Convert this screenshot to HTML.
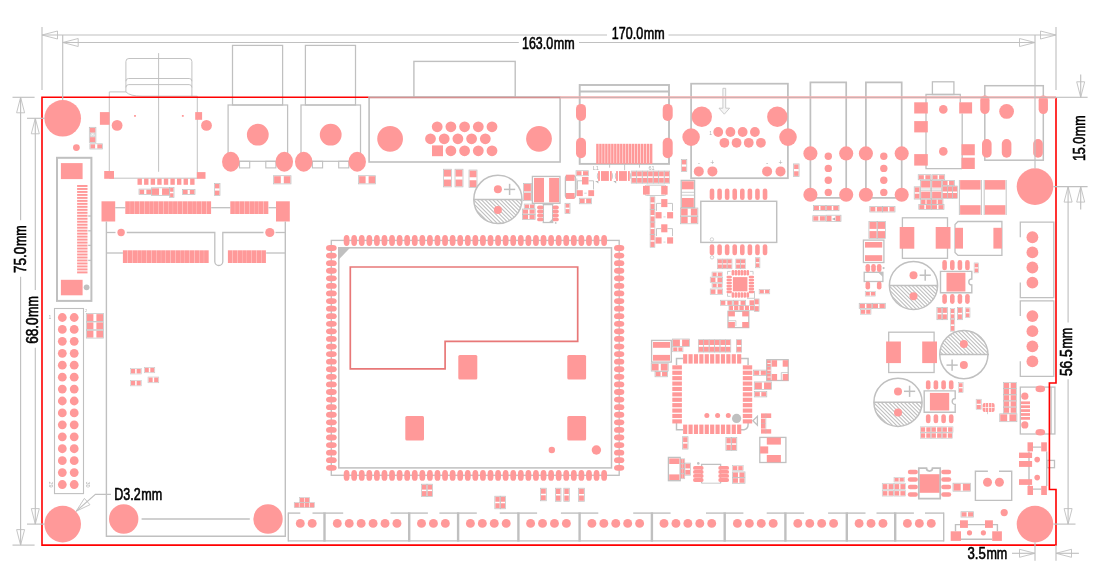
<!DOCTYPE html>
<html><head><meta charset="utf-8"><title>PCB dimensions</title>
<style>
html,body{margin:0;padding:0;background:#fff;}
body{width:1096px;height:578px;overflow:hidden;font-family:"Liberation Sans",sans-serif;}
svg{display:block;will-change:transform;}
text{font-family:"Liberation Sans",sans-serif;font-weight:400;fill:#000;stroke:#000;stroke-width:0.6px;}
</style></head><body>
<svg width="1096" height="578" viewBox="0 0 1096 578">
<rect x="57" y="157.8" width="34.4" height="143.1" fill="none" stroke="#c0c0c0" stroke-width="2"/>
<rect x="60.9" y="163.1" width="21.7" height="16" fill="#ff9999"/>
<rect x="60.9" y="279.8" width="21.7" height="15.5" fill="#ff9999"/>
<rect x="77.1" y="185" width="10.4" height="1.95" fill="#ff9999"/>
<rect x="77.1" y="187.98" width="10.4" height="1.95" fill="#ff9999"/>
<rect x="77.1" y="190.96" width="10.4" height="1.95" fill="#ff9999"/>
<rect x="77.1" y="193.94" width="10.4" height="1.95" fill="#ff9999"/>
<rect x="77.1" y="196.92" width="10.4" height="1.95" fill="#ff9999"/>
<rect x="77.1" y="199.9" width="10.4" height="1.95" fill="#ff9999"/>
<rect x="77.1" y="202.88" width="10.4" height="1.95" fill="#ff9999"/>
<rect x="77.1" y="205.86" width="10.4" height="1.95" fill="#ff9999"/>
<rect x="77.1" y="208.84" width="10.4" height="1.95" fill="#ff9999"/>
<rect x="77.1" y="211.82" width="10.4" height="1.95" fill="#ff9999"/>
<rect x="77.1" y="214.8" width="10.4" height="1.95" fill="#ff9999"/>
<rect x="77.1" y="217.78" width="10.4" height="1.95" fill="#ff9999"/>
<rect x="77.1" y="220.76" width="10.4" height="1.95" fill="#ff9999"/>
<rect x="77.1" y="223.74" width="10.4" height="1.95" fill="#ff9999"/>
<rect x="77.1" y="226.72" width="10.4" height="1.95" fill="#ff9999"/>
<rect x="77.1" y="229.7" width="10.4" height="1.95" fill="#ff9999"/>
<rect x="77.1" y="232.68" width="10.4" height="1.95" fill="#ff9999"/>
<rect x="77.1" y="235.66" width="10.4" height="1.95" fill="#ff9999"/>
<rect x="77.1" y="238.64" width="10.4" height="1.95" fill="#ff9999"/>
<rect x="77.1" y="241.62" width="10.4" height="1.95" fill="#ff9999"/>
<rect x="77.1" y="244.6" width="10.4" height="1.95" fill="#ff9999"/>
<rect x="77.1" y="247.58" width="10.4" height="1.95" fill="#ff9999"/>
<rect x="77.1" y="250.56" width="10.4" height="1.95" fill="#ff9999"/>
<rect x="77.1" y="253.54" width="10.4" height="1.95" fill="#ff9999"/>
<rect x="77.1" y="256.52" width="10.4" height="1.95" fill="#ff9999"/>
<rect x="77.1" y="259.5" width="10.4" height="1.95" fill="#ff9999"/>
<rect x="77.1" y="262.48" width="10.4" height="1.95" fill="#ff9999"/>
<rect x="77.1" y="265.46" width="10.4" height="1.95" fill="#ff9999"/>
<rect x="77.1" y="268.44" width="10.4" height="1.95" fill="#ff9999"/>
<rect x="77.1" y="271.42" width="10.4" height="1.95" fill="#ff9999"/>
<circle cx="86.6" cy="287.3" r="2.9" fill="#c0c0c0"/>
<path d="M88.2 216 L91.4 216" fill="none" stroke="#c0c0c0" stroke-width="1.3"/>
<path d="M88.2 230.8 L91.4 230.8" fill="none" stroke="#c0c0c0" stroke-width="1.3"/>
<path d="M88.2 245.4 L91.4 245.4" fill="none" stroke="#c0c0c0" stroke-width="1.3"/>
<path d="M88.2 260.4 L91.4 260.4" fill="none" stroke="#c0c0c0" stroke-width="1.3"/>
<circle cx="76.4" cy="147.6" r="3.4" fill="#ff9999"/>
<rect x="89.8" y="127.8" width="5.6" height="4.85" fill="#ff9999"/>
<rect x="89.8" y="137.15" width="5.6" height="4.85" fill="#ff9999"/>
<rect x="89.3" y="127.3" width="6.6" height="15.2" fill="none" stroke="#c0c0c0" stroke-width="0.7"/>
<rect x="90.2" y="133" width="4.8" height="3.8" fill="#f6f6f6" stroke="#c0c0c0" stroke-width="0.6"/>
<path d="M90.4 133.4 L92.6 136.2 L94.8 133.4" fill="none" stroke="#c0c0c0" stroke-width="0.5"/>
<rect x="90.4" y="144.3" width="4.7" height="4.2" fill="#ff9999"/>
<rect x="97.3" y="144.3" width="4.7" height="4.2" fill="#ff9999"/>
<rect x="89.9" y="143.8" width="12.6" height="5.2" fill="none" stroke="#c0c0c0" stroke-width="0.7"/>
<path d="M125.9 91.9 V61.5 Q125.9 58.5 128.9 58.5 H188.9 Q191.9 58.5 191.9 61.5 V96.2" fill="none" stroke="#c0c0c0" stroke-width="0.95"/>
<path d="M125.9 81.2 Q125.9 78.5 128.6 78.5 H189.2 Q191.9 78.5 191.9 81.2" fill="none" stroke="#c0c0c0" stroke-width="0.95"/>
<path d="M125.9 87.4 Q125.9 84.6 128.7 84.6 H189.1 Q191.9 84.6 191.9 87.4" fill="none" stroke="#c0c0c0" stroke-width="0.95"/>
<path d="M109.3 178.2 V91.9 H125.9 Q130 96.2 142 96.2 H197.3 V178.2 Z" fill="none" stroke="#c0c0c0" stroke-width="0.95"/>
<path d="M158.6 53.1 L158.6 171.8" fill="none" stroke="#c0c0c0" stroke-width="0.95"/>
<rect x="99.9" y="112.1" width="9.7" height="12.7" fill="#ff9999"/>
<rect x="195.2" y="112.1" width="6.9" height="7.7" fill="#ff9999"/>
<circle cx="117.1" cy="125.4" r="5.4" fill="#ff9999"/>
<circle cx="206.5" cy="125.4" r="5.4" fill="#ff9999"/>
<rect x="134.1" y="115" width="1.8" height="1.8" fill="#ff9999"/>
<rect x="181.9" y="115" width="1.8" height="1.8" fill="#ff9999"/>
<rect x="104.2" y="171" width="9.8" height="7.8" fill="#ff9999"/>
<rect x="196.9" y="172.1" width="8.6" height="6.7" fill="#ff9999"/>
<rect x="137.5" y="178.6" width="4.4" height="6.2" fill="#ff9999"/>
<rect x="144.08" y="178.6" width="4.4" height="6.2" fill="#ff9999"/>
<rect x="150.66" y="178.6" width="4.4" height="6.2" fill="#ff9999"/>
<rect x="157.24" y="178.6" width="4.4" height="6.2" fill="#ff9999"/>
<rect x="163.82" y="178.6" width="4.4" height="6.2" fill="#ff9999"/>
<rect x="170.4" y="178.6" width="4.4" height="6.2" fill="#ff9999"/>
<rect x="176.98" y="178.6" width="4.4" height="6.2" fill="#ff9999"/>
<rect x="183.56" y="178.6" width="4.4" height="6.2" fill="#ff9999"/>
<rect x="190.14" y="178.6" width="4.4" height="6.2" fill="#ff9999"/>
<rect x="139.5" y="189.6" width="4.65" height="4.5" fill="#ff9999"/>
<rect x="146.35" y="189.6" width="4.65" height="4.5" fill="#ff9999"/>
<rect x="139" y="189.1" width="12.5" height="5.5" fill="none" stroke="#c0c0c0" stroke-width="0.7"/>
<rect x="152" y="188.3" width="7.05" height="6.6" fill="#ff9999"/>
<rect x="162.05" y="188.3" width="7.05" height="6.6" fill="#ff9999"/>
<rect x="151.5" y="187.8" width="18.1" height="7.6" fill="none" stroke="#c0c0c0" stroke-width="0.7"/>
<rect x="170.1" y="188" width="3.4" height="3.75" fill="#ff9999"/>
<rect x="170.1" y="193.25" width="3.4" height="3.75" fill="#ff9999"/>
<rect x="169.6" y="187.5" width="4.4" height="10" fill="none" stroke="#c0c0c0" stroke-width="0.7"/>
<rect x="183" y="189.9" width="4.65" height="4.2" fill="#ff9999"/>
<rect x="189.85" y="189.9" width="4.65" height="4.2" fill="#ff9999"/>
<rect x="182.5" y="189.4" width="12.5" height="5.2" fill="none" stroke="#c0c0c0" stroke-width="0.7"/>
<rect x="214.9" y="183.9" width="4.6" height="4.5" fill="#ff9999"/>
<rect x="214.9" y="190.6" width="4.6" height="4.5" fill="#ff9999"/>
<rect x="214.4" y="183.4" width="5.6" height="12.2" fill="none" stroke="#c0c0c0" stroke-width="0.7"/>
<rect x="101.5" y="201.3" width="13.7" height="20.2" fill="#ff9999"/>
<rect x="276" y="201.3" width="13.8" height="20.2" fill="#ff9999"/>
<rect x="125.3" y="201.3" width="4.6" height="12.7" fill="#ff9999"/>
<rect x="122.9" y="250.3" width="4.6" height="12.7" fill="#ff9999"/>
<rect x="130.07" y="201.3" width="4.6" height="12.7" fill="#ff9999"/>
<rect x="127.68" y="250.3" width="4.6" height="12.7" fill="#ff9999"/>
<rect x="134.85" y="201.3" width="4.6" height="12.7" fill="#ff9999"/>
<rect x="132.45" y="250.3" width="4.6" height="12.7" fill="#ff9999"/>
<rect x="139.62" y="201.3" width="4.6" height="12.7" fill="#ff9999"/>
<rect x="137.22" y="250.3" width="4.6" height="12.7" fill="#ff9999"/>
<rect x="144.4" y="201.3" width="4.6" height="12.7" fill="#ff9999"/>
<rect x="142" y="250.3" width="4.6" height="12.7" fill="#ff9999"/>
<rect x="149.18" y="201.3" width="4.6" height="12.7" fill="#ff9999"/>
<rect x="146.78" y="250.3" width="4.6" height="12.7" fill="#ff9999"/>
<rect x="153.95" y="201.3" width="4.6" height="12.7" fill="#ff9999"/>
<rect x="151.55" y="250.3" width="4.6" height="12.7" fill="#ff9999"/>
<rect x="158.72" y="201.3" width="4.6" height="12.7" fill="#ff9999"/>
<rect x="156.33" y="250.3" width="4.6" height="12.7" fill="#ff9999"/>
<rect x="163.5" y="201.3" width="4.6" height="12.7" fill="#ff9999"/>
<rect x="161.1" y="250.3" width="4.6" height="12.7" fill="#ff9999"/>
<rect x="168.28" y="201.3" width="4.6" height="12.7" fill="#ff9999"/>
<rect x="165.88" y="250.3" width="4.6" height="12.7" fill="#ff9999"/>
<rect x="173.05" y="201.3" width="4.6" height="12.7" fill="#ff9999"/>
<rect x="170.65" y="250.3" width="4.6" height="12.7" fill="#ff9999"/>
<rect x="177.82" y="201.3" width="4.6" height="12.7" fill="#ff9999"/>
<rect x="175.43" y="250.3" width="4.6" height="12.7" fill="#ff9999"/>
<rect x="182.6" y="201.3" width="4.6" height="12.7" fill="#ff9999"/>
<rect x="180.2" y="250.3" width="4.6" height="12.7" fill="#ff9999"/>
<rect x="187.38" y="201.3" width="4.6" height="12.7" fill="#ff9999"/>
<rect x="184.98" y="250.3" width="4.6" height="12.7" fill="#ff9999"/>
<rect x="192.15" y="201.3" width="4.6" height="12.7" fill="#ff9999"/>
<rect x="189.75" y="250.3" width="4.6" height="12.7" fill="#ff9999"/>
<rect x="196.93" y="201.3" width="4.6" height="12.7" fill="#ff9999"/>
<rect x="194.53" y="250.3" width="4.6" height="12.7" fill="#ff9999"/>
<rect x="201.7" y="201.3" width="4.6" height="12.7" fill="#ff9999"/>
<rect x="199.3" y="250.3" width="4.6" height="12.7" fill="#ff9999"/>
<rect x="206.48" y="201.3" width="4.6" height="12.7" fill="#ff9999"/>
<rect x="204.08" y="250.3" width="4.6" height="12.7" fill="#ff9999"/>
<rect x="230.3" y="201.3" width="4.6" height="12.7" fill="#ff9999"/>
<rect x="227.9" y="250.3" width="4.6" height="12.7" fill="#ff9999"/>
<rect x="235.08" y="201.3" width="4.6" height="12.7" fill="#ff9999"/>
<rect x="232.68" y="250.3" width="4.6" height="12.7" fill="#ff9999"/>
<rect x="239.85" y="201.3" width="4.6" height="12.7" fill="#ff9999"/>
<rect x="237.45" y="250.3" width="4.6" height="12.7" fill="#ff9999"/>
<rect x="244.62" y="201.3" width="4.6" height="12.7" fill="#ff9999"/>
<rect x="242.22" y="250.3" width="4.6" height="12.7" fill="#ff9999"/>
<rect x="249.4" y="201.3" width="4.6" height="12.7" fill="#ff9999"/>
<rect x="247" y="250.3" width="4.6" height="12.7" fill="#ff9999"/>
<rect x="254.18" y="201.3" width="4.6" height="12.7" fill="#ff9999"/>
<rect x="251.78" y="250.3" width="4.6" height="12.7" fill="#ff9999"/>
<rect x="258.95" y="201.3" width="4.6" height="12.7" fill="#ff9999"/>
<rect x="256.55" y="250.3" width="4.6" height="12.7" fill="#ff9999"/>
<rect x="263.73" y="201.3" width="4.6" height="12.7" fill="#ff9999"/>
<rect x="261.32" y="250.3" width="4.6" height="12.7" fill="#ff9999"/>
<path d="M115.2 207.7 L125.3 207.7" fill="none" stroke="#c0c0c0" stroke-width="1.3"/>
<path d="M211.2 207.7 L230.3 207.7" fill="none" stroke="#c0c0c0" stroke-width="1.3"/>
<path d="M268.5 207.7 L276 207.7" fill="none" stroke="#c0c0c0" stroke-width="1.3"/>
<path d="M106.4 221.5 L106.4 536.3 L285.3 536.3 L285.3 221.5" fill="none" stroke="#c0c0c0" stroke-width="1.4"/>
<path d="M106.4 232.5 L115.5 232.5" fill="none" stroke="#c0c0c0" stroke-width="1.3"/>
<path d="M126.8 232.5 H214.8 V261.5 A4 4 0 0 0 222.8 261.5 V232.5 H263.5" fill="none" stroke="#c0c0c0" stroke-width="1.3"/>
<path d="M275.5 232.5 L285.4 232.5" fill="none" stroke="#c0c0c0" stroke-width="1.3"/>
<path d="M106.4 253 L122.9 253" fill="none" stroke="#c0c0c0" stroke-width="1.3"/>
<path d="M266.2 253 L285.4 253" fill="none" stroke="#c0c0c0" stroke-width="1.3"/>
<circle cx="121.1" cy="232.5" r="3.7" fill="#ff9999"/>
<circle cx="269.8" cy="232.5" r="4.6" fill="#ff9999"/>
<rect x="54.5" y="308.5" width="29" height="185.1" fill="none" stroke="#c0c0c0" stroke-width="1.1"/>
<circle cx="62.3" cy="317.5" r="4.4" fill="#ff9999"/>
<circle cx="74.2" cy="317.5" r="4.4" fill="#ff9999"/>
<circle cx="62.3" cy="329.43" r="4.4" fill="#ff9999"/>
<circle cx="74.2" cy="329.43" r="4.4" fill="#ff9999"/>
<circle cx="62.3" cy="341.36" r="4.4" fill="#ff9999"/>
<circle cx="74.2" cy="341.36" r="4.4" fill="#ff9999"/>
<circle cx="62.3" cy="353.29" r="4.4" fill="#ff9999"/>
<circle cx="74.2" cy="353.29" r="4.4" fill="#ff9999"/>
<circle cx="62.3" cy="365.22" r="4.4" fill="#ff9999"/>
<circle cx="74.2" cy="365.22" r="4.4" fill="#ff9999"/>
<circle cx="62.3" cy="377.15" r="4.4" fill="#ff9999"/>
<circle cx="74.2" cy="377.15" r="4.4" fill="#ff9999"/>
<circle cx="62.3" cy="389.08" r="4.4" fill="#ff9999"/>
<circle cx="74.2" cy="389.08" r="4.4" fill="#ff9999"/>
<circle cx="62.3" cy="401.01" r="4.4" fill="#ff9999"/>
<circle cx="74.2" cy="401.01" r="4.4" fill="#ff9999"/>
<circle cx="62.3" cy="412.94" r="4.4" fill="#ff9999"/>
<circle cx="74.2" cy="412.94" r="4.4" fill="#ff9999"/>
<circle cx="62.3" cy="424.87" r="4.4" fill="#ff9999"/>
<circle cx="74.2" cy="424.87" r="4.4" fill="#ff9999"/>
<circle cx="62.3" cy="436.8" r="4.4" fill="#ff9999"/>
<circle cx="74.2" cy="436.8" r="4.4" fill="#ff9999"/>
<circle cx="62.3" cy="448.73" r="4.4" fill="#ff9999"/>
<circle cx="74.2" cy="448.73" r="4.4" fill="#ff9999"/>
<circle cx="62.3" cy="460.66" r="4.4" fill="#ff9999"/>
<circle cx="74.2" cy="460.66" r="4.4" fill="#ff9999"/>
<circle cx="62.3" cy="472.59" r="4.4" fill="#ff9999"/>
<circle cx="74.2" cy="472.59" r="4.4" fill="#ff9999"/>
<circle cx="62.3" cy="484.52" r="4.4" fill="#ff9999"/>
<circle cx="74.2" cy="484.52" r="4.4" fill="#ff9999"/>
<rect x="86.8" y="314.1" width="6.6" height="6.9" fill="#ff9999"/>
<rect x="96.4" y="314.1" width="6.6" height="6.9" fill="#ff9999"/>
<rect x="86.3" y="313.6" width="17.2" height="7.9" fill="none" stroke="#c0c0c0" stroke-width="0.7"/>
<rect x="86.8" y="322.4" width="6.6" height="6.9" fill="#ff9999"/>
<rect x="96.4" y="322.4" width="6.6" height="6.9" fill="#ff9999"/>
<rect x="86.3" y="321.9" width="17.2" height="7.9" fill="none" stroke="#c0c0c0" stroke-width="0.7"/>
<rect x="86.8" y="330.7" width="6.6" height="6.9" fill="#ff9999"/>
<rect x="96.4" y="330.7" width="6.6" height="6.9" fill="#ff9999"/>
<rect x="86.3" y="330.2" width="17.2" height="7.9" fill="none" stroke="#c0c0c0" stroke-width="0.7"/>
<rect x="131" y="369" width="4.15" height="4.5" fill="#ff9999"/>
<rect x="136.65" y="369" width="4.15" height="4.5" fill="#ff9999"/>
<rect x="130.5" y="368.5" width="10.8" height="5.5" fill="none" stroke="#c0c0c0" stroke-width="0.5"/>
<rect x="144.8" y="367.8" width="4" height="4.5" fill="#ff9999"/>
<rect x="150.3" y="367.8" width="4" height="4.5" fill="#ff9999"/>
<rect x="144.3" y="367.3" width="10.5" height="5.5" fill="none" stroke="#c0c0c0" stroke-width="0.5"/>
<rect x="131" y="380.8" width="4.15" height="4.6" fill="#ff9999"/>
<rect x="136.65" y="380.8" width="4.15" height="4.6" fill="#ff9999"/>
<rect x="130.5" y="380.3" width="10.8" height="5.6" fill="none" stroke="#c0c0c0" stroke-width="0.5"/>
<rect x="148.5" y="377.5" width="4.15" height="4.8" fill="#ff9999"/>
<rect x="154.15" y="377.5" width="4.15" height="4.8" fill="#ff9999"/>
<rect x="148" y="377" width="10.8" height="5.8" fill="none" stroke="#c0c0c0" stroke-width="0.5"/>
<text x="48.6" y="484.5" font-size="5.5" text-anchor="middle" style="fill:#b0b0b0;stroke:none" transform="rotate(90 48.6 484.5)">29</text>
<text x="85.8" y="484.5" font-size="5.5" text-anchor="middle" style="fill:#b0b0b0;stroke:none" transform="rotate(90 85.8 484.5)">30</text>
<text x="50" y="319" font-size="5" text-anchor="middle" style="fill:#b0b0b0;stroke:none">1</text>
<text x="86" y="311.5" font-size="4" text-anchor="middle" style="fill:#b0b0b0;stroke:none">2</text>
<circle cx="123.7" cy="519" r="14.7" fill="#ff9999"/>
<circle cx="268" cy="519" r="14.7" fill="#ff9999"/>
<path d="M141.6 519 L249.8 519" fill="none" stroke="#c0c0c0" stroke-width="1.3"/>
<rect x="232.5" y="45.4" width="50.1" height="59.6" fill="none" stroke="#c0c0c0" stroke-width="1.25"/>
<rect x="228.1" y="105" width="59.5" height="56.3" fill="none" stroke="#c0c0c0" stroke-width="1.25"/>
<rect x="239.5" y="161.3" width="10.2" height="6.6" fill="none" stroke="#c0c0c0" stroke-width="1.1"/>
<rect x="265.8" y="161.3" width="10.1" height="6.6" fill="none" stroke="#c0c0c0" stroke-width="1.1"/>
<circle cx="257.8" cy="134.7" r="10.9" fill="#ff9999"/>
<ellipse cx="230.8" cy="161.75" rx="8.75" ry="10" fill="#ff9999"/>
<ellipse cx="284.3" cy="161.75" rx="8.75" ry="10" fill="#ff9999"/>
<rect x="305.4" y="45.4" width="50.1" height="59.6" fill="none" stroke="#c0c0c0" stroke-width="1.25"/>
<rect x="301" y="105" width="59.5" height="56.3" fill="none" stroke="#c0c0c0" stroke-width="1.25"/>
<rect x="312.4" y="161.3" width="10.2" height="6.6" fill="none" stroke="#c0c0c0" stroke-width="1.1"/>
<rect x="338.7" y="161.3" width="10.1" height="6.6" fill="none" stroke="#c0c0c0" stroke-width="1.1"/>
<circle cx="330.7" cy="134.7" r="10.9" fill="#ff9999"/>
<ellipse cx="303.7" cy="161.75" rx="8.75" ry="10" fill="#ff9999"/>
<ellipse cx="357.2" cy="161.75" rx="8.75" ry="10" fill="#ff9999"/>
<rect x="274.1" y="176.2" width="6.7" height="7.2" fill="#ff9999"/>
<rect x="283.8" y="176.2" width="6.7" height="7.2" fill="#ff9999"/>
<rect x="273.6" y="175.7" width="17.4" height="8.2" fill="none" stroke="#c0c0c0" stroke-width="0.7"/>
<rect x="359.1" y="176.2" width="6.5" height="7.2" fill="#ff9999"/>
<rect x="368.6" y="176.2" width="6.5" height="7.2" fill="#ff9999"/>
<rect x="358.6" y="175.7" width="17" height="8.2" fill="none" stroke="#c0c0c0" stroke-width="0.7"/>
<rect x="369.1" y="97.3" width="191" height="64.7" fill="none" stroke="#c0c0c0" stroke-width="1.6"/>
<rect x="413.9" y="61.4" width="101.3" height="35.9" fill="none" stroke="#c0c0c0" stroke-width="1.4"/>
<circle cx="390.1" cy="138.8" r="12.9" fill="#ff9999"/>
<circle cx="539" cy="138.8" r="12.9" fill="#ff9999"/>
<circle cx="437.2" cy="126.8" r="5.4" fill="#ff9999"/>
<circle cx="430.5" cy="138.8" r="5.4" fill="#ff9999"/>
<circle cx="450.9" cy="126.8" r="5.4" fill="#ff9999"/>
<circle cx="444.2" cy="138.8" r="5.4" fill="#ff9999"/>
<circle cx="450.9" cy="150.8" r="5.4" fill="#ff9999"/>
<circle cx="464.6" cy="126.8" r="5.4" fill="#ff9999"/>
<circle cx="457.9" cy="138.8" r="5.4" fill="#ff9999"/>
<circle cx="464.6" cy="150.8" r="5.4" fill="#ff9999"/>
<circle cx="478.3" cy="126.8" r="5.4" fill="#ff9999"/>
<circle cx="471.6" cy="138.8" r="5.4" fill="#ff9999"/>
<circle cx="478.3" cy="150.8" r="5.4" fill="#ff9999"/>
<circle cx="492" cy="126.8" r="5.4" fill="#ff9999"/>
<circle cx="485.3" cy="138.8" r="5.4" fill="#ff9999"/>
<circle cx="492" cy="150.8" r="5.4" fill="#ff9999"/>
<rect x="432" y="145.4" width="11" height="10.8" fill="#ff9999"/>
<rect x="579.7" y="85" width="89.3" height="78.9" fill="none" stroke="#c0c0c0" stroke-width="1.9"/>
<path d="M579.7 91.5 L669 91.5" fill="none" stroke="#c0c0c0" stroke-width="1.9"/>
<rect x="576" y="103.9" width="10" height="17.1" rx="5" fill="#ff9999"/>
<rect x="662.7" y="103.9" width="10" height="17.1" rx="5" fill="#ff9999"/>
<rect x="576" y="137.7" width="10" height="20.5" rx="5" fill="#ff9999"/>
<rect x="662.7" y="137.7" width="10" height="20.5" rx="5" fill="#ff9999"/>
<rect x="596.2" y="143.8" width="2.45" height="20.1" fill="#ff9999"/>
<rect x="599.19" y="143.8" width="2.45" height="20.1" fill="#ff9999"/>
<rect x="602.17" y="143.8" width="2.45" height="20.1" fill="#ff9999"/>
<rect x="605.16" y="143.8" width="2.45" height="20.1" fill="#ff9999"/>
<rect x="608.14" y="143.8" width="2.45" height="20.1" fill="#ff9999"/>
<rect x="611.12" y="143.8" width="2.45" height="20.1" fill="#ff9999"/>
<rect x="614.11" y="143.8" width="2.45" height="20.1" fill="#ff9999"/>
<rect x="617.1" y="143.8" width="2.45" height="20.1" fill="#ff9999"/>
<rect x="620.08" y="143.8" width="2.45" height="20.1" fill="#ff9999"/>
<rect x="623.07" y="143.8" width="2.45" height="20.1" fill="#ff9999"/>
<rect x="626.05" y="143.8" width="2.45" height="20.1" fill="#ff9999"/>
<rect x="629.04" y="143.8" width="2.45" height="20.1" fill="#ff9999"/>
<rect x="632.02" y="143.8" width="2.45" height="20.1" fill="#ff9999"/>
<rect x="635" y="143.8" width="2.45" height="20.1" fill="#ff9999"/>
<rect x="637.99" y="143.8" width="2.45" height="20.1" fill="#ff9999"/>
<rect x="640.98" y="143.8" width="2.45" height="20.1" fill="#ff9999"/>
<rect x="643.96" y="143.8" width="2.45" height="20.1" fill="#ff9999"/>
<rect x="646.95" y="143.8" width="2.45" height="20.1" fill="#ff9999"/>
<rect x="649.93" y="143.8" width="2.45" height="20.1" fill="#ff9999"/>
<path d="M609.6 163.9 L609.6 167.7" fill="none" stroke="#c0c0c0" stroke-width="0.9"/>
<path d="M624.6 163.9 L624.6 170.2" fill="none" stroke="#c0c0c0" stroke-width="0.9"/>
<path d="M639.5 163.9 L639.5 167.7" fill="none" stroke="#c0c0c0" stroke-width="0.9"/>
<text x="595.8" y="170.3" font-size="5.5" text-anchor="middle" style="fill:#b0b0b0;stroke:none">L1</text>
<text x="651.5" y="170.3" font-size="5.5" text-anchor="middle" style="fill:#b0b0b0;stroke:none">61</text>
<rect x="691.1" y="83.7" width="96.8" height="94.5" fill="none" stroke="#c0c0c0" stroke-width="1.75"/>
<path d="M722.9 88.3 H725.7 V108.2 H729.6 L724.3 114.2 L719 108.2 H722.9 Z" fill="#f6f6f6" stroke="#c0c0c0" stroke-width="0.8"/>
<circle cx="701.8" cy="116.7" r="10.2" fill="#ff9999"/>
<circle cx="777.3" cy="116.7" r="10.2" fill="#ff9999"/>
<circle cx="691.1" cy="137.1" r="8.8" fill="#ff9999"/>
<circle cx="788" cy="137.1" r="8.8" fill="#ff9999"/>
<circle cx="718.2" cy="132" r="4.9" fill="#ff9999"/>
<circle cx="724.4" cy="142.8" r="4.9" fill="#ff9999"/>
<circle cx="730.43" cy="132" r="4.9" fill="#ff9999"/>
<circle cx="736.57" cy="142.8" r="4.9" fill="#ff9999"/>
<circle cx="742.66" cy="132" r="4.9" fill="#ff9999"/>
<circle cx="748.74" cy="142.8" r="4.9" fill="#ff9999"/>
<circle cx="754.89" cy="132" r="4.9" fill="#ff9999"/>
<circle cx="760.91" cy="142.8" r="4.9" fill="#ff9999"/>
<text x="710.7" y="135" font-size="5" text-anchor="middle" style="fill:#b0b0b0;stroke:none">1</text>
<circle cx="698.8" cy="171.4" r="5" fill="#ff9999"/>
<circle cx="712.4" cy="171.4" r="5" fill="#ff9999"/>
<circle cx="767.1" cy="171.4" r="5" fill="#ff9999"/>
<circle cx="780.5" cy="171.4" r="5" fill="#ff9999"/>
<text x="698.8" y="164.5" font-size="7" text-anchor="middle" style="fill:#b0b0b0;stroke:none">-</text>
<text x="712.4" y="164.5" font-size="7" text-anchor="middle" style="fill:#b0b0b0;stroke:none">+</text>
<text x="767.1" y="164.5" font-size="7" text-anchor="middle" style="fill:#b0b0b0;stroke:none">-</text>
<text x="780.5" y="164.5" font-size="7" text-anchor="middle" style="fill:#b0b0b0;stroke:none">+</text>
<rect x="681.8" y="160" width="4.5" height="4.45" fill="#ff9999"/>
<rect x="681.8" y="166.65" width="4.5" height="4.45" fill="#ff9999"/>
<rect x="681.3" y="159.5" width="5.5" height="12.1" fill="none" stroke="#c0c0c0" stroke-width="0.7"/>
<rect x="794.1" y="164.4" width="4.5" height="4.65" fill="#ff9999"/>
<rect x="794.1" y="171.25" width="4.5" height="4.65" fill="#ff9999"/>
<rect x="793.6" y="163.9" width="5.5" height="12.5" fill="none" stroke="#c0c0c0" stroke-width="0.7"/>
<path d="M810.4 197.9 L810.4 82.4 L846.2 82.4 L846.2 197.9 L810.4 197.9" fill="none" stroke="#c0c0c0" stroke-width="1.7"/>
<circle cx="810.4" cy="153.4" r="7.05" fill="#ff9999"/>
<circle cx="810.4" cy="194.7" r="7.05" fill="#ff9999"/>
<circle cx="846.2" cy="153.4" r="7.05" fill="#ff9999"/>
<circle cx="846.2" cy="194.7" r="7.05" fill="#ff9999"/>
<circle cx="828.3" cy="156.2" r="3.7" fill="#ff9999"/>
<circle cx="828.3" cy="168.4" r="3.7" fill="#ff9999"/>
<circle cx="828.3" cy="180.3" r="3.7" fill="#ff9999"/>
<circle cx="828.3" cy="192.4" r="3.7" fill="#ff9999"/>
<path d="M865.9 197.9 L865.9 82.4 L901.7 82.4 L901.7 197.9 L865.9 197.9" fill="none" stroke="#c0c0c0" stroke-width="1.7"/>
<circle cx="865.9" cy="153.4" r="7.05" fill="#ff9999"/>
<circle cx="865.9" cy="194.7" r="7.05" fill="#ff9999"/>
<circle cx="901.7" cy="153.4" r="7.05" fill="#ff9999"/>
<circle cx="901.7" cy="194.7" r="7.05" fill="#ff9999"/>
<circle cx="883.8" cy="156.2" r="3.7" fill="#ff9999"/>
<circle cx="883.8" cy="168.4" r="3.7" fill="#ff9999"/>
<circle cx="883.8" cy="180.3" r="3.7" fill="#ff9999"/>
<circle cx="883.8" cy="192.4" r="3.7" fill="#ff9999"/>
<rect x="932.4" y="81.8" width="21.5" height="12.7" fill="none" stroke="#c0c0c0" stroke-width="1.3"/>
<path d="M962 168.6 L926 168.6 L926 94.5 L960.3 94.5 L960.3 102.5" fill="none" stroke="#c0c0c0" stroke-width="1.3"/>
<path d="M962.2 113.5 L962.2 168.6" fill="none" stroke="#c0c0c0" stroke-width="1.3"/>
<rect x="914.2" y="102.3" width="13.6" height="11.2" fill="#ff9999"/>
<rect x="914.2" y="121.1" width="13.6" height="11.3" fill="#ff9999"/>
<rect x="914.2" y="154.1" width="13.6" height="11.5" fill="#ff9999"/>
<rect x="959.2" y="102.3" width="12.9" height="11.2" fill="#ff9999"/>
<rect x="961.5" y="144.2" width="13.3" height="11.1" fill="#ff9999"/>
<rect x="961.5" y="157.7" width="13.3" height="11.3" fill="#ff9999"/>
<circle cx="943.3" cy="109.4" r="4.3" fill="#ff9999"/>
<circle cx="943.3" cy="151.4" r="4.3" fill="#ff9999"/>
<rect x="984.8" y="85.7" width="58.5" height="74.5" fill="none" stroke="#c0c0c0" stroke-width="1.5"/>
<rect x="980.25" y="95.5" width="9.3" height="18.5" rx="4.65" fill="#ff9999"/>
<rect x="1038.65" y="95.5" width="9.3" height="18.5" rx="4.65" fill="#ff9999"/>
<circle cx="1006.6" cy="111.4" r="7.4" fill="#ff9999"/>
<rect x="982" y="139" width="9.6" height="18.7" rx="4.8" fill="#ff9999"/>
<rect x="1001.8" y="139" width="9.6" height="18.7" rx="4.8" fill="#ff9999"/>
<rect x="1033.2" y="139" width="9.6" height="18.7" rx="4.8" fill="#ff9999"/>
<rect x="331.3" y="240.4" width="287.9" height="234.9" fill="none" stroke="#c0c0c0" stroke-width="1.35"/>
<rect x="338.8" y="247.8" width="272.7" height="220.1" fill="none" stroke="#c0c0c0" stroke-width="1.5"/>
<path d="M338.1 247.1 H350.8 L338.1 260.3 Z" fill="#c0c0c0" stroke="#c0c0c0" stroke-width="0"/>
<rect x="343.7" y="235" width="5.8" height="10.9" rx="2.9" ry="3.92" fill="#ff9999"/>
<rect x="343.7" y="469.9" width="5.8" height="10.9" rx="2.9" ry="3.92" fill="#ff9999"/>
<rect x="351.27" y="235" width="5.8" height="10.9" rx="2.9" ry="3.92" fill="#ff9999"/>
<rect x="351.27" y="469.9" width="5.8" height="10.9" rx="2.9" ry="3.92" fill="#ff9999"/>
<rect x="358.85" y="235" width="5.8" height="10.9" rx="2.9" ry="3.92" fill="#ff9999"/>
<rect x="358.85" y="469.9" width="5.8" height="10.9" rx="2.9" ry="3.92" fill="#ff9999"/>
<rect x="366.42" y="235" width="5.8" height="10.9" rx="2.9" ry="3.92" fill="#ff9999"/>
<rect x="366.42" y="469.9" width="5.8" height="10.9" rx="2.9" ry="3.92" fill="#ff9999"/>
<rect x="374" y="235" width="5.8" height="10.9" rx="2.9" ry="3.92" fill="#ff9999"/>
<rect x="374" y="469.9" width="5.8" height="10.9" rx="2.9" ry="3.92" fill="#ff9999"/>
<rect x="381.57" y="235" width="5.8" height="10.9" rx="2.9" ry="3.92" fill="#ff9999"/>
<rect x="381.57" y="469.9" width="5.8" height="10.9" rx="2.9" ry="3.92" fill="#ff9999"/>
<rect x="389.14" y="235" width="5.8" height="10.9" rx="2.9" ry="3.92" fill="#ff9999"/>
<rect x="389.14" y="469.9" width="5.8" height="10.9" rx="2.9" ry="3.92" fill="#ff9999"/>
<rect x="396.72" y="235" width="5.8" height="10.9" rx="2.9" ry="3.92" fill="#ff9999"/>
<rect x="396.72" y="469.9" width="5.8" height="10.9" rx="2.9" ry="3.92" fill="#ff9999"/>
<rect x="404.29" y="235" width="5.8" height="10.9" rx="2.9" ry="3.92" fill="#ff9999"/>
<rect x="404.29" y="469.9" width="5.8" height="10.9" rx="2.9" ry="3.92" fill="#ff9999"/>
<rect x="411.87" y="235" width="5.8" height="10.9" rx="2.9" ry="3.92" fill="#ff9999"/>
<rect x="411.87" y="469.9" width="5.8" height="10.9" rx="2.9" ry="3.92" fill="#ff9999"/>
<rect x="419.44" y="235" width="5.8" height="10.9" rx="2.9" ry="3.92" fill="#ff9999"/>
<rect x="419.44" y="469.9" width="5.8" height="10.9" rx="2.9" ry="3.92" fill="#ff9999"/>
<rect x="427.01" y="235" width="5.8" height="10.9" rx="2.9" ry="3.92" fill="#ff9999"/>
<rect x="427.01" y="469.9" width="5.8" height="10.9" rx="2.9" ry="3.92" fill="#ff9999"/>
<rect x="434.59" y="235" width="5.8" height="10.9" rx="2.9" ry="3.92" fill="#ff9999"/>
<rect x="434.59" y="469.9" width="5.8" height="10.9" rx="2.9" ry="3.92" fill="#ff9999"/>
<rect x="442.16" y="235" width="5.8" height="10.9" rx="2.9" ry="3.92" fill="#ff9999"/>
<rect x="442.16" y="469.9" width="5.8" height="10.9" rx="2.9" ry="3.92" fill="#ff9999"/>
<rect x="449.74" y="235" width="5.8" height="10.9" rx="2.9" ry="3.92" fill="#ff9999"/>
<rect x="449.74" y="469.9" width="5.8" height="10.9" rx="2.9" ry="3.92" fill="#ff9999"/>
<rect x="457.31" y="235" width="5.8" height="10.9" rx="2.9" ry="3.92" fill="#ff9999"/>
<rect x="457.31" y="469.9" width="5.8" height="10.9" rx="2.9" ry="3.92" fill="#ff9999"/>
<rect x="464.88" y="235" width="5.8" height="10.9" rx="2.9" ry="3.92" fill="#ff9999"/>
<rect x="464.88" y="469.9" width="5.8" height="10.9" rx="2.9" ry="3.92" fill="#ff9999"/>
<rect x="472.46" y="235" width="5.8" height="10.9" rx="2.9" ry="3.92" fill="#ff9999"/>
<rect x="472.46" y="469.9" width="5.8" height="10.9" rx="2.9" ry="3.92" fill="#ff9999"/>
<rect x="480.03" y="235" width="5.8" height="10.9" rx="2.9" ry="3.92" fill="#ff9999"/>
<rect x="480.03" y="469.9" width="5.8" height="10.9" rx="2.9" ry="3.92" fill="#ff9999"/>
<rect x="487.61" y="235" width="5.8" height="10.9" rx="2.9" ry="3.92" fill="#ff9999"/>
<rect x="487.61" y="469.9" width="5.8" height="10.9" rx="2.9" ry="3.92" fill="#ff9999"/>
<rect x="495.18" y="235" width="5.8" height="10.9" rx="2.9" ry="3.92" fill="#ff9999"/>
<rect x="495.18" y="469.9" width="5.8" height="10.9" rx="2.9" ry="3.92" fill="#ff9999"/>
<rect x="502.75" y="235" width="5.8" height="10.9" rx="2.9" ry="3.92" fill="#ff9999"/>
<rect x="502.75" y="469.9" width="5.8" height="10.9" rx="2.9" ry="3.92" fill="#ff9999"/>
<rect x="510.33" y="235" width="5.8" height="10.9" rx="2.9" ry="3.92" fill="#ff9999"/>
<rect x="510.33" y="469.9" width="5.8" height="10.9" rx="2.9" ry="3.92" fill="#ff9999"/>
<rect x="517.9" y="235" width="5.8" height="10.9" rx="2.9" ry="3.92" fill="#ff9999"/>
<rect x="517.9" y="469.9" width="5.8" height="10.9" rx="2.9" ry="3.92" fill="#ff9999"/>
<rect x="525.48" y="235" width="5.8" height="10.9" rx="2.9" ry="3.92" fill="#ff9999"/>
<rect x="525.48" y="469.9" width="5.8" height="10.9" rx="2.9" ry="3.92" fill="#ff9999"/>
<rect x="533.05" y="235" width="5.8" height="10.9" rx="2.9" ry="3.92" fill="#ff9999"/>
<rect x="533.05" y="469.9" width="5.8" height="10.9" rx="2.9" ry="3.92" fill="#ff9999"/>
<rect x="540.62" y="235" width="5.8" height="10.9" rx="2.9" ry="3.92" fill="#ff9999"/>
<rect x="540.62" y="469.9" width="5.8" height="10.9" rx="2.9" ry="3.92" fill="#ff9999"/>
<rect x="548.2" y="235" width="5.8" height="10.9" rx="2.9" ry="3.92" fill="#ff9999"/>
<rect x="548.2" y="469.9" width="5.8" height="10.9" rx="2.9" ry="3.92" fill="#ff9999"/>
<rect x="555.77" y="235" width="5.8" height="10.9" rx="2.9" ry="3.92" fill="#ff9999"/>
<rect x="555.77" y="469.9" width="5.8" height="10.9" rx="2.9" ry="3.92" fill="#ff9999"/>
<rect x="563.35" y="235" width="5.8" height="10.9" rx="2.9" ry="3.92" fill="#ff9999"/>
<rect x="563.35" y="469.9" width="5.8" height="10.9" rx="2.9" ry="3.92" fill="#ff9999"/>
<rect x="570.92" y="235" width="5.8" height="10.9" rx="2.9" ry="3.92" fill="#ff9999"/>
<rect x="570.92" y="469.9" width="5.8" height="10.9" rx="2.9" ry="3.92" fill="#ff9999"/>
<rect x="578.49" y="235" width="5.8" height="10.9" rx="2.9" ry="3.92" fill="#ff9999"/>
<rect x="578.49" y="469.9" width="5.8" height="10.9" rx="2.9" ry="3.92" fill="#ff9999"/>
<rect x="586.07" y="235" width="5.8" height="10.9" rx="2.9" ry="3.92" fill="#ff9999"/>
<rect x="586.07" y="469.9" width="5.8" height="10.9" rx="2.9" ry="3.92" fill="#ff9999"/>
<rect x="593.64" y="235" width="5.8" height="10.9" rx="2.9" ry="3.92" fill="#ff9999"/>
<rect x="593.64" y="469.9" width="5.8" height="10.9" rx="2.9" ry="3.92" fill="#ff9999"/>
<rect x="601.22" y="235" width="5.8" height="10.9" rx="2.9" ry="3.92" fill="#ff9999"/>
<rect x="601.22" y="469.9" width="5.8" height="10.9" rx="2.9" ry="3.92" fill="#ff9999"/>
<rect x="326" y="245.1" width="10.7" height="5.8" rx="3.85" ry="2.9" fill="#ff9999"/>
<rect x="614" y="245.1" width="10.3" height="5.8" rx="3.71" ry="2.9" fill="#ff9999"/>
<rect x="326" y="252.68" width="10.7" height="5.8" rx="3.85" ry="2.9" fill="#ff9999"/>
<rect x="614" y="252.68" width="10.3" height="5.8" rx="3.71" ry="2.9" fill="#ff9999"/>
<rect x="326" y="260.26" width="10.7" height="5.8" rx="3.85" ry="2.9" fill="#ff9999"/>
<rect x="614" y="260.26" width="10.3" height="5.8" rx="3.71" ry="2.9" fill="#ff9999"/>
<rect x="326" y="267.84" width="10.7" height="5.8" rx="3.85" ry="2.9" fill="#ff9999"/>
<rect x="614" y="267.84" width="10.3" height="5.8" rx="3.71" ry="2.9" fill="#ff9999"/>
<rect x="326" y="275.42" width="10.7" height="5.8" rx="3.85" ry="2.9" fill="#ff9999"/>
<rect x="614" y="275.42" width="10.3" height="5.8" rx="3.71" ry="2.9" fill="#ff9999"/>
<rect x="326" y="283" width="10.7" height="5.8" rx="3.85" ry="2.9" fill="#ff9999"/>
<rect x="614" y="283" width="10.3" height="5.8" rx="3.71" ry="2.9" fill="#ff9999"/>
<rect x="326" y="290.57" width="10.7" height="5.8" rx="3.85" ry="2.9" fill="#ff9999"/>
<rect x="614" y="290.57" width="10.3" height="5.8" rx="3.71" ry="2.9" fill="#ff9999"/>
<rect x="326" y="298.15" width="10.7" height="5.8" rx="3.85" ry="2.9" fill="#ff9999"/>
<rect x="614" y="298.15" width="10.3" height="5.8" rx="3.71" ry="2.9" fill="#ff9999"/>
<rect x="326" y="305.73" width="10.7" height="5.8" rx="3.85" ry="2.9" fill="#ff9999"/>
<rect x="614" y="305.73" width="10.3" height="5.8" rx="3.71" ry="2.9" fill="#ff9999"/>
<rect x="326" y="313.31" width="10.7" height="5.8" rx="3.85" ry="2.9" fill="#ff9999"/>
<rect x="614" y="313.31" width="10.3" height="5.8" rx="3.71" ry="2.9" fill="#ff9999"/>
<rect x="326" y="320.89" width="10.7" height="5.8" rx="3.85" ry="2.9" fill="#ff9999"/>
<rect x="614" y="320.89" width="10.3" height="5.8" rx="3.71" ry="2.9" fill="#ff9999"/>
<rect x="326" y="328.47" width="10.7" height="5.8" rx="3.85" ry="2.9" fill="#ff9999"/>
<rect x="614" y="328.47" width="10.3" height="5.8" rx="3.71" ry="2.9" fill="#ff9999"/>
<rect x="326" y="336.05" width="10.7" height="5.8" rx="3.85" ry="2.9" fill="#ff9999"/>
<rect x="614" y="336.05" width="10.3" height="5.8" rx="3.71" ry="2.9" fill="#ff9999"/>
<rect x="326" y="343.63" width="10.7" height="5.8" rx="3.85" ry="2.9" fill="#ff9999"/>
<rect x="614" y="343.63" width="10.3" height="5.8" rx="3.71" ry="2.9" fill="#ff9999"/>
<rect x="326" y="351.21" width="10.7" height="5.8" rx="3.85" ry="2.9" fill="#ff9999"/>
<rect x="614" y="351.21" width="10.3" height="5.8" rx="3.71" ry="2.9" fill="#ff9999"/>
<rect x="326" y="358.79" width="10.7" height="5.8" rx="3.85" ry="2.9" fill="#ff9999"/>
<rect x="614" y="358.79" width="10.3" height="5.8" rx="3.71" ry="2.9" fill="#ff9999"/>
<rect x="326" y="366.36" width="10.7" height="5.8" rx="3.85" ry="2.9" fill="#ff9999"/>
<rect x="614" y="366.36" width="10.3" height="5.8" rx="3.71" ry="2.9" fill="#ff9999"/>
<rect x="326" y="373.94" width="10.7" height="5.8" rx="3.85" ry="2.9" fill="#ff9999"/>
<rect x="614" y="373.94" width="10.3" height="5.8" rx="3.71" ry="2.9" fill="#ff9999"/>
<rect x="326" y="381.52" width="10.7" height="5.8" rx="3.85" ry="2.9" fill="#ff9999"/>
<rect x="614" y="381.52" width="10.3" height="5.8" rx="3.71" ry="2.9" fill="#ff9999"/>
<rect x="326" y="389.1" width="10.7" height="5.8" rx="3.85" ry="2.9" fill="#ff9999"/>
<rect x="614" y="389.1" width="10.3" height="5.8" rx="3.71" ry="2.9" fill="#ff9999"/>
<rect x="326" y="396.68" width="10.7" height="5.8" rx="3.85" ry="2.9" fill="#ff9999"/>
<rect x="614" y="396.68" width="10.3" height="5.8" rx="3.71" ry="2.9" fill="#ff9999"/>
<rect x="326" y="404.26" width="10.7" height="5.8" rx="3.85" ry="2.9" fill="#ff9999"/>
<rect x="614" y="404.26" width="10.3" height="5.8" rx="3.71" ry="2.9" fill="#ff9999"/>
<rect x="326" y="411.84" width="10.7" height="5.8" rx="3.85" ry="2.9" fill="#ff9999"/>
<rect x="614" y="411.84" width="10.3" height="5.8" rx="3.71" ry="2.9" fill="#ff9999"/>
<rect x="326" y="419.42" width="10.7" height="5.8" rx="3.85" ry="2.9" fill="#ff9999"/>
<rect x="614" y="419.42" width="10.3" height="5.8" rx="3.71" ry="2.9" fill="#ff9999"/>
<rect x="326" y="427" width="10.7" height="5.8" rx="3.85" ry="2.9" fill="#ff9999"/>
<rect x="614" y="427" width="10.3" height="5.8" rx="3.71" ry="2.9" fill="#ff9999"/>
<rect x="326" y="434.58" width="10.7" height="5.8" rx="3.85" ry="2.9" fill="#ff9999"/>
<rect x="614" y="434.58" width="10.3" height="5.8" rx="3.71" ry="2.9" fill="#ff9999"/>
<rect x="326" y="442.15" width="10.7" height="5.8" rx="3.85" ry="2.9" fill="#ff9999"/>
<rect x="614" y="442.15" width="10.3" height="5.8" rx="3.71" ry="2.9" fill="#ff9999"/>
<rect x="326" y="449.73" width="10.7" height="5.8" rx="3.85" ry="2.9" fill="#ff9999"/>
<rect x="614" y="449.73" width="10.3" height="5.8" rx="3.71" ry="2.9" fill="#ff9999"/>
<rect x="326" y="457.31" width="10.7" height="5.8" rx="3.85" ry="2.9" fill="#ff9999"/>
<rect x="614" y="457.31" width="10.3" height="5.8" rx="3.71" ry="2.9" fill="#ff9999"/>
<rect x="326" y="464.89" width="10.7" height="5.8" rx="3.85" ry="2.9" fill="#ff9999"/>
<rect x="614" y="464.89" width="10.3" height="5.8" rx="3.71" ry="2.9" fill="#ff9999"/>
<path d="M350.3 267 H577.7 V341.3 H445.1 V368.9 H350.3 Z" fill="none" stroke="#e87878" stroke-width="1.7"/>
<rect x="458.3" y="355.1" width="19" height="24.5" rx="1.5" fill="#ff9999"/>
<rect x="567.3" y="355.1" width="18.8" height="24.5" rx="1.5" fill="#ff9999"/>
<rect x="405.3" y="416" width="18.7" height="24.4" rx="1.5" fill="#ff9999"/>
<rect x="567.3" y="416" width="18.8" height="24.4" rx="1.5" fill="#ff9999"/>
<circle cx="551.8" cy="450" r="3.2" fill="#ff9999"/>
<circle cx="596.4" cy="450" r="4.7" fill="#ff9999"/>
<rect x="443.9" y="169.7" width="7.1" height="6.85" fill="#ff9999"/>
<rect x="443.9" y="179.55" width="7.1" height="6.85" fill="#ff9999"/>
<rect x="443.4" y="169.2" width="8.1" height="17.7" fill="none" stroke="#c0c0c0" stroke-width="0.7"/>
<rect x="455.5" y="169.7" width="7" height="6.85" fill="#ff9999"/>
<rect x="455.5" y="179.55" width="7" height="6.85" fill="#ff9999"/>
<rect x="455" y="169.2" width="8" height="17.7" fill="none" stroke="#c0c0c0" stroke-width="0.7"/>
<rect x="469.5" y="170.5" width="7" height="6.75" fill="#ff9999"/>
<rect x="469.5" y="180.25" width="7" height="6.75" fill="#ff9999"/>
<rect x="469" y="170" width="8" height="17.5" fill="none" stroke="#c0c0c0" stroke-width="0.7"/>
<clipPath id="hc1"><path d="M473.8 199.4 A24.1 24.1 0 0 0 522 199.4 Z"/></clipPath>
<path d="M471.8 117.1 L524 169.3 M471.8 120.95 L524 173.15 M471.8 124.8 L524 177 M471.8 128.65 L524 180.85 M471.8 132.5 L524 184.7 M471.8 136.35 L524 188.55 M471.8 140.2 L524 192.4 M471.8 144.05 L524 196.25 M471.8 147.9 L524 200.1 M471.8 151.75 L524 203.95 M471.8 155.6 L524 207.8 M471.8 159.45 L524 211.65 M471.8 163.3 L524 215.5 M471.8 167.15 L524 219.35 M471.8 171 L524 223.2 M471.8 174.85 L524 227.05 M471.8 178.7 L524 230.9 M471.8 182.55 L524 234.75 M471.8 186.4 L524 238.6 M471.8 190.25 L524 242.45 M471.8 194.1 L524 246.3 M471.8 197.95 L524 250.15 M471.8 201.8 L524 254 M471.8 205.65 L524 257.85 M471.8 209.5 L524 261.7 M471.8 213.35 L524 265.55 M471.8 217.2 L524 269.4 M471.8 221.05 L524 273.25 M471.8 224.9 L524 277.1 M471.8 228.75 L524 280.95" clip-path="url(#hc1)" stroke="#c0c0c0" stroke-width="1.1" fill="none"/>
<circle cx="497.9" cy="199.4" r="24.1" fill="none" stroke="#c0c0c0" stroke-width="1.5"/>
<path d="M473.8 199.4 L522 199.4" fill="none" stroke="#c0c0c0" stroke-width="1.5"/>
<circle cx="497.9" cy="189.2" r="4" fill="#ff9999"/>
<circle cx="497.9" cy="209.9" r="4" fill="#ff9999"/>
<path d="M504 189.4 L515.2 189.4" fill="none" stroke="#c0c0c0" stroke-width="1.5"/>
<path d="M509.6 183.8 L509.6 195" fill="none" stroke="#c0c0c0" stroke-width="1.5"/>
<rect x="524" y="183.9" width="6.9" height="7.35" fill="#ff9999"/>
<rect x="524" y="192.85" width="6.9" height="7.35" fill="#ff9999"/>
<rect x="523.5" y="183.4" width="7.9" height="17.3" fill="none" stroke="#c0c0c0" stroke-width="0.7"/>
<path d="M523.5 192.05 L531.4 192.05" fill="none" stroke="#c0c0c0" stroke-width="0.8"/>
<rect x="532.4" y="176.4" width="27.6" height="26.9" fill="none" stroke="#c0c0c0" stroke-width="1.3"/>
<rect x="534" y="177.9" width="10" height="24.4" fill="#ff9999"/>
<rect x="549.1" y="177.9" width="9.9" height="24.4" fill="#ff9999"/>
<rect x="524.7" y="204.5" width="4.4" height="3.6" fill="#ff9999"/>
<rect x="529.9" y="204.5" width="4.4" height="3.6" fill="#ff9999"/>
<rect x="524.2" y="204" width="10.6" height="4.6" fill="none" stroke="#c0c0c0" stroke-width="0.6"/>
<rect x="522.9" y="209.5" width="5.15" height="4.2" fill="#ff9999"/>
<rect x="529.55" y="209.5" width="5.15" height="4.2" fill="#ff9999"/>
<rect x="522.4" y="209" width="12.8" height="5.2" fill="none" stroke="#c0c0c0" stroke-width="0.7"/>
<rect x="522.9" y="214.9" width="5.15" height="4.2" fill="#ff9999"/>
<rect x="529.55" y="214.9" width="5.15" height="4.2" fill="#ff9999"/>
<rect x="522.4" y="214.4" width="12.8" height="5.2" fill="none" stroke="#c0c0c0" stroke-width="0.7"/>
<rect x="543.3" y="204.6" width="9.4" height="17.9" fill="none" stroke="#c0c0c0" stroke-width="1.3"/>
<path d="M552.7 218.5 V222.5 H548.7 Z" fill="#c0c0c0" stroke="#c0c0c0" stroke-width="0"/>
<rect x="537.1" y="205.55" width="6.3" height="3.7" rx="1.85" fill="#ff9999"/>
<rect x="552.6" y="205.55" width="6.2" height="3.7" rx="1.85" fill="#ff9999"/>
<rect x="537.1" y="209.55" width="6.3" height="3.7" rx="1.85" fill="#ff9999"/>
<rect x="552.6" y="209.55" width="6.2" height="3.7" rx="1.85" fill="#ff9999"/>
<rect x="537.1" y="213.55" width="6.3" height="3.7" rx="1.85" fill="#ff9999"/>
<rect x="552.6" y="213.55" width="6.2" height="3.7" rx="1.85" fill="#ff9999"/>
<rect x="537.1" y="217.55" width="6.3" height="3.7" rx="1.85" fill="#ff9999"/>
<rect x="552.6" y="217.55" width="6.2" height="3.7" rx="1.85" fill="#ff9999"/>
<circle cx="555.7" cy="222.9" r="0.9" fill="#c0c0c0"/>
<rect x="565.5" y="203.8" width="4" height="3.85" fill="#ff9999"/>
<rect x="565.5" y="209.15" width="4" height="3.85" fill="#ff9999"/>
<rect x="565" y="203.3" width="5" height="10.2" fill="none" stroke="#c0c0c0" stroke-width="0.7"/>
<rect x="565.4" y="176" width="10.1" height="21.8" rx="1.8" fill="none" stroke="#c0c0c0" stroke-width="1.3"/>
<path d="M576.6 178.5 L576.6 195.5" fill="none" stroke="#dcdcdc" stroke-width="1.6"/>
<rect x="565.9" y="174.7" width="8.7" height="6.2" fill="#ff9999"/>
<rect x="565.9" y="193" width="8.7" height="5.9" fill="#ff9999"/>
<rect x="576.5" y="171.2" width="5" height="4.1" fill="#ff9999"/>
<rect x="583" y="171.2" width="5" height="4.1" fill="#ff9999"/>
<rect x="576" y="170.7" width="12.5" height="5.1" fill="none" stroke="#c0c0c0" stroke-width="0.7"/>
<path d="M577.4 189.5 V180.8 H582 M588.5 180.8 H593.5 V189.5" fill="none" stroke="#c0c0c0" stroke-width="0.9"/>
<rect x="582" y="177" width="6.5" height="7.5" fill="#ff9999"/>
<rect x="576.8" y="190.2" width="6" height="5.9" fill="#ff9999"/>
<rect x="588.3" y="190.2" width="5.8" height="5.9" fill="#ff9999"/>
<path d="M584.3 193.2 L586.7 193.2" fill="none" stroke="#c0c0c0" stroke-width="0.7"/>
<rect x="579.8" y="198.7" width="4.85" height="4.6" fill="#ff9999"/>
<rect x="586.15" y="198.7" width="4.85" height="4.6" fill="#ff9999"/>
<rect x="579.3" y="198.2" width="12.2" height="5.6" fill="none" stroke="#c0c0c0" stroke-width="0.7"/>
<path d="M597.7 173.2 Q596.9 176 597.7 178.8 M612.2 173.2 Q613.0 176 612.2 178.8" fill="none" stroke="#c0c0c0" stroke-width="0.8"/>
<rect x="598.1" y="171.1" width="1.8" height="9.8" fill="#ff9999"/>
<rect x="601" y="171.1" width="7.9" height="9.8" fill="#ff9999"/>
<rect x="610" y="171.1" width="1.8" height="9.8" fill="#ff9999"/>
<path d="M615.7 173.2 Q614.9 176 615.7 178.8 M630.2 173.2 Q631.0 176 630.2 178.8" fill="none" stroke="#c0c0c0" stroke-width="0.8"/>
<rect x="616.1" y="171.1" width="1.8" height="9.8" fill="#ff9999"/>
<rect x="619" y="171.1" width="7.9" height="9.8" fill="#ff9999"/>
<rect x="628" y="171.1" width="1.8" height="9.8" fill="#ff9999"/>
<rect x="631.6" y="171.4" width="4.7" height="4.9" fill="#ff9999"/>
<rect x="631.6" y="177.9" width="4.7" height="4.9" fill="#ff9999"/>
<rect x="631.2" y="171" width="5.5" height="12.2" fill="none" stroke="#c0c0c0" stroke-width="0.6"/>
<rect x="637.1" y="171.4" width="4.7" height="4.9" fill="#ff9999"/>
<rect x="637.1" y="177.9" width="4.7" height="4.9" fill="#ff9999"/>
<rect x="636.7" y="171" width="5.5" height="12.2" fill="none" stroke="#c0c0c0" stroke-width="0.6"/>
<rect x="642.6" y="171.4" width="4.7" height="4.9" fill="#ff9999"/>
<rect x="642.6" y="177.9" width="4.7" height="4.9" fill="#ff9999"/>
<rect x="642.2" y="171" width="5.5" height="12.2" fill="none" stroke="#c0c0c0" stroke-width="0.6"/>
<rect x="648.1" y="171.4" width="4.7" height="4.9" fill="#ff9999"/>
<rect x="648.1" y="177.9" width="4.7" height="4.9" fill="#ff9999"/>
<rect x="647.7" y="171" width="5.5" height="12.2" fill="none" stroke="#c0c0c0" stroke-width="0.6"/>
<rect x="653.6" y="171.4" width="4.7" height="4.9" fill="#ff9999"/>
<rect x="653.6" y="177.9" width="4.7" height="4.9" fill="#ff9999"/>
<rect x="653.2" y="171" width="5.5" height="12.2" fill="none" stroke="#c0c0c0" stroke-width="0.6"/>
<rect x="659.1" y="171.4" width="4.7" height="4.9" fill="#ff9999"/>
<rect x="659.1" y="177.9" width="4.7" height="4.9" fill="#ff9999"/>
<rect x="658.7" y="171" width="5.5" height="12.2" fill="none" stroke="#c0c0c0" stroke-width="0.6"/>
<rect x="664.6" y="171.4" width="4.7" height="4.9" fill="#ff9999"/>
<rect x="664.6" y="177.9" width="4.7" height="4.9" fill="#ff9999"/>
<rect x="664.2" y="171" width="5.5" height="12.2" fill="none" stroke="#c0c0c0" stroke-width="0.6"/>
<path d="M595.1 181 H598.4 V183.6 Z M613.2 181 H616.2 V183.6 Z" fill="#b8b8b8" stroke="#c0c0c0" stroke-width="0"/>
<rect x="645" y="185.2" width="21" height="10.3" rx="1.5" fill="none" stroke="#c0c0c0" stroke-width="0.8"/>
<rect x="643" y="185.9" width="6.7" height="8.7" fill="#ff9999"/>
<rect x="661.2" y="185.9" width="6.4" height="8.7" fill="#ff9999"/>
<rect x="650.4" y="197.1" width="4.2" height="5.31" fill="#ff9999"/>
<rect x="650.4" y="203.81" width="4.2" height="5.31" fill="#ff9999"/>
<rect x="650.1" y="196.8" width="4.8" height="12.62" fill="none" stroke="#c0c0c0" stroke-width="0.6"/>
<rect x="650.4" y="209.72" width="4.2" height="5.31" fill="#ff9999"/>
<rect x="650.4" y="216.43" width="4.2" height="5.31" fill="#ff9999"/>
<rect x="650.1" y="209.42" width="4.8" height="12.62" fill="none" stroke="#c0c0c0" stroke-width="0.6"/>
<rect x="650.4" y="222.34" width="4.2" height="5.31" fill="#ff9999"/>
<rect x="650.4" y="229.05" width="4.2" height="5.31" fill="#ff9999"/>
<rect x="650.1" y="222.04" width="4.8" height="12.62" fill="none" stroke="#c0c0c0" stroke-width="0.6"/>
<rect x="650.4" y="234.96" width="4.2" height="5.31" fill="#ff9999"/>
<rect x="650.4" y="241.67" width="4.2" height="5.31" fill="#ff9999"/>
<rect x="650.1" y="234.66" width="4.8" height="12.62" fill="none" stroke="#c0c0c0" stroke-width="0.6"/>
<path d="M656.5 210.9 V203.4 H661.2 M667.4 203.4 H672.5 V210.9" fill="none" stroke="#c0c0c0" stroke-width="0.9"/>
<rect x="661.2" y="199.1" width="6.2" height="8" fill="#ff9999"/>
<rect x="655.5" y="212.1" width="6.1" height="6.3" fill="#ff9999"/>
<rect x="667.1" y="212.1" width="6" height="6.3" fill="#ff9999"/>
<path d="M663.5 216.9 L665.5 216.9" fill="none" stroke="#c0c0c0" stroke-width="0.7"/>
<path d="M656.5 236.1 V228.6 H661.2 M667.4 228.6 H672.5 V236.1" fill="none" stroke="#c0c0c0" stroke-width="0.9"/>
<rect x="661.2" y="224.3" width="6.2" height="8" fill="#ff9999"/>
<rect x="655.5" y="237.3" width="6.1" height="6.3" fill="#ff9999"/>
<rect x="667.1" y="237.3" width="6" height="6.3" fill="#ff9999"/>
<path d="M663.5 242.1 L665.5 242.1" fill="none" stroke="#c0c0c0" stroke-width="0.7"/>
<rect x="681.2" y="180.4" width="13.4" height="27.3" fill="none" stroke="#c0c0c0" stroke-width="1.3"/>
<rect x="682" y="181.3" width="11.8" height="8" fill="#ff9999"/>
<rect x="682" y="198" width="11.8" height="9" fill="#ff9999"/>
<path d="M681.2 192.3 L694.6 192.3" fill="none" stroke="#c0c0c0" stroke-width="0.8"/>
<path d="M681.2 195.2 L694.6 195.2" fill="none" stroke="#c0c0c0" stroke-width="0.8"/>
<rect x="681.1" y="208.5" width="6.55" height="7" fill="#ff9999"/>
<rect x="690.85" y="208.5" width="6.55" height="7" fill="#ff9999"/>
<rect x="680.6" y="208" width="17.3" height="8" fill="none" stroke="#c0c0c0" stroke-width="0.7"/>
<rect x="681.1" y="217" width="6.55" height="6.3" fill="#ff9999"/>
<rect x="690.85" y="217" width="6.55" height="6.3" fill="#ff9999"/>
<rect x="680.6" y="216.5" width="17.3" height="7.3" fill="none" stroke="#c0c0c0" stroke-width="0.7"/>
<rect x="700.8" y="201.3" width="75.9" height="41.1" fill="none" stroke="#c0c0c0" stroke-width="1.45"/>
<rect x="709.7" y="188.4" width="4.6" height="11.6" rx="2.3" fill="#ff9999"/>
<rect x="709.7" y="244.2" width="4.6" height="11" rx="2.3" fill="#ff9999"/>
<rect x="717.28" y="188.4" width="4.6" height="11.6" rx="2.3" fill="#ff9999"/>
<rect x="717.28" y="244.2" width="4.6" height="11" rx="2.3" fill="#ff9999"/>
<rect x="724.85" y="188.4" width="4.6" height="11.6" rx="2.3" fill="#ff9999"/>
<rect x="724.85" y="244.2" width="4.6" height="11" rx="2.3" fill="#ff9999"/>
<rect x="732.43" y="188.4" width="4.6" height="11.6" rx="2.3" fill="#ff9999"/>
<rect x="732.43" y="244.2" width="4.6" height="11" rx="2.3" fill="#ff9999"/>
<rect x="740" y="188.4" width="4.6" height="11.6" rx="2.3" fill="#ff9999"/>
<rect x="740" y="244.2" width="4.6" height="11" rx="2.3" fill="#ff9999"/>
<rect x="747.58" y="188.4" width="4.6" height="11.6" rx="2.3" fill="#ff9999"/>
<rect x="747.58" y="244.2" width="4.6" height="11" rx="2.3" fill="#ff9999"/>
<rect x="755.15" y="188.4" width="4.6" height="11.6" rx="2.3" fill="#ff9999"/>
<rect x="755.15" y="244.2" width="4.6" height="11" rx="2.3" fill="#ff9999"/>
<rect x="762.73" y="188.4" width="4.6" height="11.6" rx="2.3" fill="#ff9999"/>
<rect x="762.73" y="244.2" width="4.6" height="11" rx="2.3" fill="#ff9999"/>
<circle cx="711.9" cy="239.4" r="1.7" fill="none" stroke="#c0c0c0" stroke-width="0.7"/>
<circle cx="712" cy="257.3" r="1.7" fill="none" stroke="#c0c0c0" stroke-width="0.7"/>
<rect x="717.6" y="259.3" width="4.3" height="4" fill="#ff9999"/>
<rect x="717.6" y="264.5" width="4.3" height="4" fill="#ff9999"/>
<rect x="717.3" y="259" width="4.9" height="9.8" fill="none" stroke="#c0c0c0" stroke-width="0.5"/>
<rect x="722.5" y="259.3" width="4.3" height="4" fill="#ff9999"/>
<rect x="722.5" y="264.5" width="4.3" height="4" fill="#ff9999"/>
<rect x="722.2" y="259" width="4.9" height="9.8" fill="none" stroke="#c0c0c0" stroke-width="0.5"/>
<rect x="727.4" y="259.3" width="4.3" height="4" fill="#ff9999"/>
<rect x="727.4" y="264.5" width="4.3" height="4" fill="#ff9999"/>
<rect x="727.1" y="259" width="4.9" height="9.8" fill="none" stroke="#c0c0c0" stroke-width="0.5"/>
<rect x="736.1" y="259.3" width="4.2" height="4" fill="#ff9999"/>
<rect x="736.1" y="264.5" width="4.2" height="4" fill="#ff9999"/>
<rect x="735.8" y="259" width="4.8" height="9.8" fill="none" stroke="#c0c0c0" stroke-width="0.5"/>
<rect x="740.9" y="259.3" width="4.2" height="4" fill="#ff9999"/>
<rect x="740.9" y="264.5" width="4.2" height="4" fill="#ff9999"/>
<rect x="740.6" y="259" width="4.8" height="9.8" fill="none" stroke="#c0c0c0" stroke-width="0.5"/>
<rect x="755.8" y="258.2" width="3.6" height="3.95" fill="#ff9999"/>
<rect x="755.8" y="263.35" width="3.6" height="3.95" fill="#ff9999"/>
<rect x="755.3" y="257.7" width="4.6" height="10.1" fill="none" stroke="#c0c0c0" stroke-width="0.6"/>
<path d="M727.5 274.5 V271.4 H730.5 M750 271.4 H753.1 V274.5 M727.5 293.3 V296.3 H730.5 M747 298.3 H754.5 V291" fill="none" stroke="#c0c0c0" stroke-width="0.8"/>
<rect x="732.9" y="277.1" width="14.5" height="14.2" fill="#ff9999"/>
<rect x="731.6" y="270.1" width="2.6" height="5.4" rx="1.2" fill="#ff9999"/>
<rect x="731.6" y="292.3" width="2.6" height="5.4" rx="1.2" fill="#ff9999"/>
<rect x="726.5" y="275.7" width="5.4" height="2.6" rx="1.2" fill="#ff9999"/>
<rect x="748.7" y="275.7" width="5.4" height="2.6" rx="1.2" fill="#ff9999"/>
<rect x="734.58" y="270.1" width="2.6" height="5.4" rx="1.2" fill="#ff9999"/>
<rect x="734.58" y="292.3" width="2.6" height="5.4" rx="1.2" fill="#ff9999"/>
<rect x="726.5" y="278.68" width="5.4" height="2.6" rx="1.2" fill="#ff9999"/>
<rect x="748.7" y="278.68" width="5.4" height="2.6" rx="1.2" fill="#ff9999"/>
<rect x="737.56" y="270.1" width="2.6" height="5.4" rx="1.2" fill="#ff9999"/>
<rect x="737.56" y="292.3" width="2.6" height="5.4" rx="1.2" fill="#ff9999"/>
<rect x="726.5" y="281.66" width="5.4" height="2.6" rx="1.2" fill="#ff9999"/>
<rect x="748.7" y="281.66" width="5.4" height="2.6" rx="1.2" fill="#ff9999"/>
<rect x="740.54" y="270.1" width="2.6" height="5.4" rx="1.2" fill="#ff9999"/>
<rect x="740.54" y="292.3" width="2.6" height="5.4" rx="1.2" fill="#ff9999"/>
<rect x="726.5" y="284.64" width="5.4" height="2.6" rx="1.2" fill="#ff9999"/>
<rect x="748.7" y="284.64" width="5.4" height="2.6" rx="1.2" fill="#ff9999"/>
<rect x="743.52" y="270.1" width="2.6" height="5.4" rx="1.2" fill="#ff9999"/>
<rect x="743.52" y="292.3" width="2.6" height="5.4" rx="1.2" fill="#ff9999"/>
<rect x="726.5" y="287.62" width="5.4" height="2.6" rx="1.2" fill="#ff9999"/>
<rect x="748.7" y="287.62" width="5.4" height="2.6" rx="1.2" fill="#ff9999"/>
<rect x="746.5" y="270.1" width="2.6" height="5.4" rx="1.2" fill="#ff9999"/>
<rect x="746.5" y="292.3" width="2.6" height="5.4" rx="1.2" fill="#ff9999"/>
<rect x="726.5" y="290.6" width="5.4" height="2.6" rx="1.2" fill="#ff9999"/>
<rect x="748.7" y="290.6" width="5.4" height="2.6" rx="1.2" fill="#ff9999"/>
<rect x="712.5" y="272.5" width="4.1" height="3.6" fill="#ff9999"/>
<rect x="717.8" y="272.5" width="4.1" height="3.6" fill="#ff9999"/>
<rect x="712" y="272" width="10.4" height="4.6" fill="none" stroke="#c0c0c0" stroke-width="0.5"/>
<rect x="710.7" y="277.6" width="4.75" height="4.5" fill="#ff9999"/>
<rect x="717.45" y="277.6" width="4.75" height="4.5" fill="#ff9999"/>
<rect x="710.2" y="277.1" width="12.5" height="5.5" fill="none" stroke="#c0c0c0" stroke-width="0.6"/>
<rect x="712.5" y="283.7" width="4.1" height="3.5" fill="#ff9999"/>
<rect x="717.8" y="283.7" width="4.1" height="3.5" fill="#ff9999"/>
<rect x="712" y="283.2" width="10.4" height="4.5" fill="none" stroke="#c0c0c0" stroke-width="0.5"/>
<rect x="710.7" y="289.4" width="4.75" height="4.5" fill="#ff9999"/>
<rect x="717.45" y="289.4" width="4.75" height="4.5" fill="#ff9999"/>
<rect x="710.2" y="288.9" width="12.5" height="5.5" fill="none" stroke="#c0c0c0" stroke-width="0.6"/>
<rect x="759.6" y="289.8" width="4.25" height="3.6" fill="#ff9999"/>
<rect x="765.05" y="289.8" width="4.25" height="3.6" fill="#ff9999"/>
<rect x="759.1" y="289.3" width="10.7" height="4.6" fill="none" stroke="#c0c0c0" stroke-width="0.5"/>
<rect x="720.8" y="300.7" width="4.55" height="4.2" fill="#ff9999"/>
<rect x="727.35" y="300.7" width="4.55" height="4.2" fill="#ff9999"/>
<rect x="720.3" y="300.2" width="12.1" height="5.2" fill="none" stroke="#c0c0c0" stroke-width="0.6"/>
<rect x="733.9" y="300.7" width="4.65" height="4.2" fill="#ff9999"/>
<rect x="740.55" y="300.7" width="4.65" height="4.2" fill="#ff9999"/>
<rect x="733.4" y="300.2" width="12.3" height="5.2" fill="none" stroke="#c0c0c0" stroke-width="0.6"/>
<rect x="749.5" y="300.3" width="4.6" height="4.8" fill="#ff9999"/>
<rect x="754.6" y="299.2" width="4.2" height="5.1" fill="#ff9999"/>
<rect x="754.6" y="306.1" width="4.2" height="5.1" fill="#ff9999"/>
<rect x="754.3" y="298.9" width="4.8" height="12.6" fill="none" stroke="#c0c0c0" stroke-width="0.6"/>
<rect x="729.1" y="305.8" width="3.9" height="4.3" fill="#ff9999"/>
<rect x="734.1" y="305.8" width="4.2" height="4.3" fill="#ff9999"/>
<rect x="739.4" y="305.8" width="4.4" height="4.3" fill="#ff9999"/>
<rect x="744.9" y="305.8" width="4.1" height="4.3" fill="#ff9999"/>
<rect x="750" y="305.8" width="4.1" height="4.3" fill="#ff9999"/>
<rect x="728.9" y="305.6" width="25.2" height="4.7" fill="none" stroke="#c0c0c0" stroke-width="0.5"/>
<rect x="728" y="311.3" width="20.8" height="16.3" fill="none" stroke="#c0c0c0" stroke-width="1.3"/>
<rect x="728.2" y="311.3" width="6.7" height="5.1" fill="#ff9999"/>
<rect x="742.2" y="311.3" width="6.6" height="5.1" fill="#ff9999"/>
<rect x="728.2" y="322" width="6.7" height="5.6" fill="#ff9999"/>
<rect x="742.2" y="322" width="6.6" height="5.6" fill="#ff9999"/>
<path d="M728.5 320.7 H735.9 V326" fill="none" stroke="#c0c0c0" stroke-width="0.7"/>
<path d="M676.5 365 V358.4 H683 M740.9 358.4 H748.1 V365 M676.5 423 V429.8 H683 M740.9 429.8 H744 Q748.1 429 748.1 424.5 V423" fill="none" stroke="#c0c0c0" stroke-width="1.45"/>
<rect x="683.1" y="354.2" width="4.15" height="9.4" fill="#ff9999"/>
<rect x="683.1" y="424.6" width="4.15" height="9.4" fill="#ff9999"/>
<rect x="672.3" y="365.3" width="9.6" height="4.15" fill="#ff9999"/>
<rect x="742.8" y="365.3" width="9.4" height="4.15" fill="#ff9999"/>
<rect x="688.5" y="354.2" width="4.15" height="9.4" fill="#ff9999"/>
<rect x="688.5" y="424.6" width="4.15" height="9.4" fill="#ff9999"/>
<rect x="672.3" y="370.7" width="9.6" height="4.15" fill="#ff9999"/>
<rect x="742.8" y="370.7" width="9.4" height="4.15" fill="#ff9999"/>
<rect x="693.9" y="354.2" width="4.15" height="9.4" fill="#ff9999"/>
<rect x="693.9" y="424.6" width="4.15" height="9.4" fill="#ff9999"/>
<rect x="672.3" y="376.1" width="9.6" height="4.15" fill="#ff9999"/>
<rect x="742.8" y="376.1" width="9.4" height="4.15" fill="#ff9999"/>
<rect x="699.3" y="354.2" width="4.15" height="9.4" fill="#ff9999"/>
<rect x="699.3" y="424.6" width="4.15" height="9.4" fill="#ff9999"/>
<rect x="672.3" y="381.5" width="9.6" height="4.15" fill="#ff9999"/>
<rect x="742.8" y="381.5" width="9.4" height="4.15" fill="#ff9999"/>
<rect x="704.7" y="354.2" width="4.15" height="9.4" fill="#ff9999"/>
<rect x="704.7" y="424.6" width="4.15" height="9.4" fill="#ff9999"/>
<rect x="672.3" y="386.9" width="9.6" height="4.15" fill="#ff9999"/>
<rect x="742.8" y="386.9" width="9.4" height="4.15" fill="#ff9999"/>
<rect x="710.1" y="354.2" width="4.15" height="9.4" fill="#ff9999"/>
<rect x="710.1" y="424.6" width="4.15" height="9.4" fill="#ff9999"/>
<rect x="672.3" y="392.3" width="9.6" height="4.15" fill="#ff9999"/>
<rect x="742.8" y="392.3" width="9.4" height="4.15" fill="#ff9999"/>
<rect x="715.5" y="354.2" width="4.15" height="9.4" fill="#ff9999"/>
<rect x="715.5" y="424.6" width="4.15" height="9.4" fill="#ff9999"/>
<rect x="672.3" y="397.7" width="9.6" height="4.15" fill="#ff9999"/>
<rect x="742.8" y="397.7" width="9.4" height="4.15" fill="#ff9999"/>
<rect x="720.9" y="354.2" width="4.15" height="9.4" fill="#ff9999"/>
<rect x="720.9" y="424.6" width="4.15" height="9.4" fill="#ff9999"/>
<rect x="672.3" y="403.1" width="9.6" height="4.15" fill="#ff9999"/>
<rect x="742.8" y="403.1" width="9.4" height="4.15" fill="#ff9999"/>
<rect x="726.3" y="354.2" width="4.15" height="9.4" fill="#ff9999"/>
<rect x="726.3" y="424.6" width="4.15" height="9.4" fill="#ff9999"/>
<rect x="672.3" y="408.5" width="9.6" height="4.15" fill="#ff9999"/>
<rect x="742.8" y="408.5" width="9.4" height="4.15" fill="#ff9999"/>
<rect x="731.7" y="354.2" width="4.15" height="9.4" fill="#ff9999"/>
<rect x="731.7" y="424.6" width="4.15" height="9.4" fill="#ff9999"/>
<rect x="672.3" y="413.9" width="9.6" height="4.15" fill="#ff9999"/>
<rect x="742.8" y="413.9" width="9.4" height="4.15" fill="#ff9999"/>
<rect x="737.1" y="354.2" width="4.15" height="9.4" fill="#ff9999"/>
<rect x="737.1" y="424.6" width="4.15" height="9.4" fill="#ff9999"/>
<rect x="672.3" y="419.3" width="9.6" height="4.15" fill="#ff9999"/>
<rect x="742.8" y="419.3" width="9.4" height="4.15" fill="#ff9999"/>
<circle cx="706.85" cy="415.5" r="2.5" fill="#ff9999"/>
<circle cx="717.6" cy="415.5" r="2.5" fill="#ff9999"/>
<circle cx="728.3" cy="415.5" r="2.5" fill="#ff9999"/>
<circle cx="736.6" cy="418.4" r="4.6" fill="#c0c0c0"/>
<path d="M752.9 420.8 L757.4 416.4 V425.3 Z" fill="#fff" stroke="#c0c0c0" stroke-width="1.3"/>
<rect x="651.6" y="340.4" width="19.7" height="21.7" fill="none" stroke="#c0c0c0" stroke-width="1.3"/>
<rect x="653" y="342" width="17" height="5.8" fill="#ff9999"/>
<rect x="653" y="354.9" width="17" height="5.8" fill="#ff9999"/>
<rect x="672.9" y="339.5" width="7" height="6.6" fill="#ff9999"/>
<rect x="682.1" y="339.5" width="7" height="6.6" fill="#ff9999"/>
<rect x="672.4" y="339" width="17.2" height="7.6" fill="none" stroke="#c0c0c0" stroke-width="0.7"/>
<rect x="673.2" y="347.4" width="4.15" height="3.9" fill="#ff9999"/>
<rect x="678.35" y="347.4" width="4.15" height="3.9" fill="#ff9999"/>
<rect x="672.7" y="346.9" width="10.3" height="4.9" fill="none" stroke="#c0c0c0" stroke-width="0.5"/>
<rect x="651.7" y="363.7" width="6.9" height="6.9" fill="#ff9999"/>
<rect x="660.8" y="363.7" width="6.9" height="6.9" fill="#ff9999"/>
<rect x="651.2" y="363.2" width="17" height="7.9" fill="none" stroke="#c0c0c0" stroke-width="0.7"/>
<rect x="655.5" y="372" width="5.05" height="4.3" fill="#ff9999"/>
<rect x="662.05" y="372" width="5.05" height="4.3" fill="#ff9999"/>
<rect x="655" y="371.5" width="12.6" height="5.3" fill="none" stroke="#c0c0c0" stroke-width="0.7"/>
<rect x="698.6" y="340" width="4.82" height="5" fill="#ff9999"/>
<rect x="698.6" y="346.8" width="4.82" height="5" fill="#ff9999"/>
<rect x="698.3" y="339.7" width="5.42" height="12.4" fill="none" stroke="#c0c0c0" stroke-width="0.6"/>
<rect x="704.02" y="340" width="4.82" height="5" fill="#ff9999"/>
<rect x="704.02" y="346.8" width="4.82" height="5" fill="#ff9999"/>
<rect x="703.72" y="339.7" width="5.42" height="12.4" fill="none" stroke="#c0c0c0" stroke-width="0.6"/>
<rect x="709.44" y="340" width="4.82" height="5" fill="#ff9999"/>
<rect x="709.44" y="346.8" width="4.82" height="5" fill="#ff9999"/>
<rect x="709.14" y="339.7" width="5.42" height="12.4" fill="none" stroke="#c0c0c0" stroke-width="0.6"/>
<rect x="714.86" y="340" width="4.82" height="5" fill="#ff9999"/>
<rect x="714.86" y="346.8" width="4.82" height="5" fill="#ff9999"/>
<rect x="714.56" y="339.7" width="5.42" height="12.4" fill="none" stroke="#c0c0c0" stroke-width="0.6"/>
<rect x="720.28" y="340" width="4.82" height="5" fill="#ff9999"/>
<rect x="720.28" y="346.8" width="4.82" height="5" fill="#ff9999"/>
<rect x="719.98" y="339.7" width="5.42" height="12.4" fill="none" stroke="#c0c0c0" stroke-width="0.6"/>
<rect x="725.7" y="340" width="4.82" height="5" fill="#ff9999"/>
<rect x="725.7" y="346.8" width="4.82" height="5" fill="#ff9999"/>
<rect x="725.4" y="339.7" width="5.42" height="12.4" fill="none" stroke="#c0c0c0" stroke-width="0.6"/>
<rect x="736.6" y="340" width="4.8" height="5" fill="#ff9999"/>
<rect x="736.6" y="346.8" width="4.8" height="5" fill="#ff9999"/>
<rect x="736.3" y="339.7" width="5.4" height="12.4" fill="none" stroke="#c0c0c0" stroke-width="0.6"/>
<rect x="754.1" y="370.6" width="5.15" height="4.3" fill="#ff9999"/>
<rect x="760.75" y="370.6" width="5.15" height="4.3" fill="#ff9999"/>
<rect x="753.6" y="370.1" width="12.8" height="5.3" fill="none" stroke="#c0c0c0" stroke-width="0.7"/>
<rect x="766.8" y="359.7" width="21.4" height="20.8" fill="none" stroke="#c0c0c0" stroke-width="1.3"/>
<path d="M781.3 380.5 V372.6 H788.2" fill="none" stroke="#c0c0c0" stroke-width="0.8"/>
<rect x="771.6" y="360.2" width="5.5" height="6.5" fill="#ff9999"/>
<rect x="782.7" y="360.2" width="5.5" height="6.5" fill="#ff9999"/>
<rect x="771.6" y="374" width="5.5" height="6.5" fill="#ff9999"/>
<rect x="782.7" y="374" width="5.5" height="6.5" fill="#ff9999"/>
<rect x="767" y="360.2" width="3.8" height="2.8" fill="#ff9999"/>
<rect x="767" y="363.8" width="3.8" height="2.8" fill="#ff9999"/>
<rect x="766.8" y="360" width="4.2" height="6.8" fill="none" stroke="#c0c0c0" stroke-width="0.5"/>
<rect x="767" y="367" width="3.8" height="2.8" fill="#ff9999"/>
<rect x="767" y="370.6" width="3.8" height="2.8" fill="#ff9999"/>
<rect x="766.8" y="366.8" width="4.2" height="6.8" fill="none" stroke="#c0c0c0" stroke-width="0.5"/>
<rect x="767" y="373.8" width="3.8" height="2.8" fill="#ff9999"/>
<rect x="767" y="377.4" width="3.8" height="2.8" fill="#ff9999"/>
<rect x="766.8" y="373.6" width="4.2" height="6.8" fill="none" stroke="#c0c0c0" stroke-width="0.5"/>
<rect x="754.8" y="382.4" width="7.05" height="6.6" fill="#ff9999"/>
<rect x="764.05" y="382.4" width="7.05" height="6.6" fill="#ff9999"/>
<rect x="754.3" y="381.9" width="17.3" height="7.6" fill="none" stroke="#c0c0c0" stroke-width="0.7"/>
<rect x="754.8" y="392.1" width="5" height="4.3" fill="#ff9999"/>
<rect x="761.3" y="392.1" width="5" height="4.3" fill="#ff9999"/>
<rect x="754.3" y="391.6" width="12.5" height="5.3" fill="none" stroke="#c0c0c0" stroke-width="0.7"/>
<rect x="761" y="413.4" width="10.2" height="4.6" fill="#ff9999"/>
<rect x="761" y="418.6" width="4.5" height="10" fill="#ff9999"/>
<rect x="761" y="429.2" width="10.2" height="4.4" fill="#ff9999"/>
<path d="M765.9 413.4 L765.9 433.6" fill="none" stroke="#c0c0c0" stroke-width="0.5"/>
<path d="M761 423.5 L765.5 423.5" fill="none" stroke="#c0c0c0" stroke-width="0.5"/>
<rect x="759.8" y="437.4" width="26.1" height="25.1" fill="none" stroke="#c0c0c0" stroke-width="1.3"/>
<rect x="766.8" y="437.6" width="14.1" height="7" fill="#ff9999"/>
<rect x="760.1" y="446.4" width="8.1" height="7.1" fill="#ff9999"/>
<rect x="766.8" y="455" width="14.1" height="7.3" fill="#ff9999"/>
<rect x="683.1" y="437.2" width="4.4" height="4.95" fill="#ff9999"/>
<rect x="683.1" y="443.65" width="4.4" height="4.95" fill="#ff9999"/>
<rect x="682.6" y="436.7" width="5.4" height="12.4" fill="none" stroke="#c0c0c0" stroke-width="0.7"/>
<rect x="726.4" y="438.1" width="4.4" height="5.2" fill="#ff9999"/>
<rect x="726.4" y="444.8" width="4.4" height="5.2" fill="#ff9999"/>
<rect x="725.9" y="437.6" width="5.4" height="12.9" fill="none" stroke="#c0c0c0" stroke-width="0.7"/>
<rect x="731.8" y="438.1" width="4.5" height="5.2" fill="#ff9999"/>
<rect x="731.8" y="444.8" width="4.5" height="5.2" fill="#ff9999"/>
<rect x="731.3" y="437.6" width="5.5" height="12.9" fill="none" stroke="#c0c0c0" stroke-width="0.7"/>
<rect x="668.4" y="457.4" width="11.8" height="23.3" fill="none" stroke="#c0c0c0" stroke-width="1.3"/>
<rect x="669.2" y="458.4" width="10.2" height="5.6" fill="#ff9999"/>
<rect x="669.2" y="474.4" width="10.2" height="5.6" fill="#ff9999"/>
<rect x="680.5" y="459.1" width="2" height="4.4" fill="#ff9999"/>
<rect x="682.5" y="459.1" width="2" height="4.4" fill="#ff9999"/>
<rect x="680.2" y="458.8" width="4.6" height="5" fill="none" stroke="#c0c0c0" stroke-width="0.5"/>
<rect x="680.5" y="464.1" width="2" height="4.4" fill="#ff9999"/>
<rect x="682.5" y="464.1" width="2" height="4.4" fill="#ff9999"/>
<rect x="680.2" y="463.8" width="4.6" height="5" fill="none" stroke="#c0c0c0" stroke-width="0.5"/>
<rect x="680.5" y="469.1" width="2" height="4.4" fill="#ff9999"/>
<rect x="682.5" y="469.1" width="2" height="4.4" fill="#ff9999"/>
<rect x="680.2" y="468.8" width="4.6" height="5" fill="none" stroke="#c0c0c0" stroke-width="0.5"/>
<rect x="680.5" y="474.1" width="2" height="4.4" fill="#ff9999"/>
<rect x="682.5" y="474.1" width="2" height="4.4" fill="#ff9999"/>
<rect x="680.2" y="473.8" width="4.6" height="5" fill="none" stroke="#c0c0c0" stroke-width="0.5"/>
<rect x="685.3" y="463.6" width="4.7" height="4.8" fill="#ff9999"/>
<rect x="685.3" y="469.9" width="4.7" height="4.8" fill="#ff9999"/>
<rect x="684.8" y="463.1" width="5.7" height="12.1" fill="none" stroke="#c0c0c0" stroke-width="0.7"/>
<path d="M701.6 483.2 V464.4 H720.6 V483.2" fill="none" stroke="#c0c0c0" stroke-width="1.3"/>
<path d="M701.6 483.2 L720.6 483.2" fill="none" stroke="#c0c0c0" stroke-width="0.8"/>
<rect x="693" y="466" width="10.6" height="3.8" rx="1.9" fill="#ff9999"/>
<rect x="718.3" y="466" width="10.8" height="3.8" rx="1.9" fill="#ff9999"/>
<rect x="693" y="470.03" width="10.6" height="3.8" rx="1.9" fill="#ff9999"/>
<rect x="718.3" y="470.03" width="10.8" height="3.8" rx="1.9" fill="#ff9999"/>
<rect x="693" y="474.06" width="10.6" height="3.8" rx="1.9" fill="#ff9999"/>
<rect x="718.3" y="474.06" width="10.8" height="3.8" rx="1.9" fill="#ff9999"/>
<rect x="693" y="478.09" width="10.6" height="3.8" rx="1.9" fill="#ff9999"/>
<rect x="718.3" y="478.09" width="10.8" height="3.8" rx="1.9" fill="#ff9999"/>
<circle cx="698.3" cy="463.4" r="1.3" fill="#c0c0c0"/>
<rect x="732.9" y="466.1" width="4.4" height="4.1" fill="#ff9999"/>
<rect x="738.3" y="466.1" width="4.4" height="4.1" fill="#ff9999"/>
<rect x="732.4" y="465.6" width="10.8" height="5.1" fill="none" stroke="#c0c0c0" stroke-width="0.5"/>
<rect x="732.9" y="472.4" width="5.05" height="4.6" fill="#ff9999"/>
<rect x="739.45" y="472.4" width="5.05" height="4.6" fill="#ff9999"/>
<rect x="732.4" y="471.9" width="12.6" height="5.6" fill="none" stroke="#c0c0c0" stroke-width="0.7"/>
<rect x="732.9" y="478.2" width="5.05" height="4.6" fill="#ff9999"/>
<rect x="739.45" y="478.2" width="5.05" height="4.6" fill="#ff9999"/>
<rect x="732.4" y="477.7" width="12.6" height="5.6" fill="none" stroke="#c0c0c0" stroke-width="0.7"/>
<rect x="813.9" y="206" width="5.05" height="4.2" fill="#ff9999"/>
<rect x="820.45" y="206" width="5.05" height="4.2" fill="#ff9999"/>
<rect x="813.4" y="205.5" width="12.6" height="5.2" fill="none" stroke="#c0c0c0" stroke-width="0.7"/>
<rect x="826.5" y="206" width="5.25" height="4.2" fill="#ff9999"/>
<rect x="833.25" y="206" width="5.25" height="4.2" fill="#ff9999"/>
<rect x="826" y="205.5" width="13" height="5.2" fill="none" stroke="#c0c0c0" stroke-width="0.7"/>
<rect x="813.3" y="216.2" width="5.05" height="4.5" fill="#ff9999"/>
<rect x="819.85" y="216.2" width="5.05" height="4.5" fill="#ff9999"/>
<rect x="812.8" y="215.7" width="12.6" height="5.5" fill="none" stroke="#c0c0c0" stroke-width="0.7"/>
<rect x="826.5" y="215.7" width="5" height="5.4" fill="#ff9999"/>
<rect x="835.5" y="215.7" width="5" height="5.4" fill="#ff9999"/>
<rect x="826" y="215.2" width="15" height="6.4" fill="none" stroke="#c0c0c0" stroke-width="0.7"/>
<text x="833.5" y="220.2" font-size="4" text-anchor="middle" style="fill:#b0b0b0;stroke:none">&#9664;</text>
<rect x="870.3" y="207" width="5.05" height="4.5" fill="#ff9999"/>
<rect x="876.85" y="207" width="5.05" height="4.5" fill="#ff9999"/>
<rect x="869.8" y="206.5" width="12.6" height="5.5" fill="none" stroke="#c0c0c0" stroke-width="0.7"/>
<rect x="882.9" y="207" width="5.05" height="4.5" fill="#ff9999"/>
<rect x="889.45" y="207" width="5.05" height="4.5" fill="#ff9999"/>
<rect x="882.4" y="206.5" width="12.6" height="5.5" fill="none" stroke="#c0c0c0" stroke-width="0.7"/>
<rect x="869.4" y="222" width="7.3" height="6.9" fill="#ff9999"/>
<rect x="869.4" y="231.1" width="7.3" height="6.9" fill="#ff9999"/>
<rect x="868.9" y="221.5" width="8.3" height="17" fill="none" stroke="#c0c0c0" stroke-width="0.7"/>
<rect x="877.7" y="222" width="7.3" height="6.9" fill="#ff9999"/>
<rect x="877.7" y="231.1" width="7.3" height="6.9" fill="#ff9999"/>
<rect x="877.2" y="221.5" width="8.3" height="17" fill="none" stroke="#c0c0c0" stroke-width="0.7"/>
<rect x="863.4" y="240.1" width="20.5" height="22.4" fill="none" stroke="#c0c0c0" stroke-width="1.3"/>
<rect x="865" y="242" width="17.2" height="5.6" fill="#ff9999"/>
<rect x="865" y="255.2" width="17.2" height="5.8" fill="#ff9999"/>
<rect x="864.2" y="272.3" width="18.7" height="9.2" fill="none" stroke="#c0c0c0" stroke-width="1.3"/>
<path d="M882.9 272.3 V277 L878 272.3 Z" fill="#c0c0c0" stroke="#c0c0c0" stroke-width="0"/>
<rect x="865.5" y="264" width="4.6" height="8" rx="2.3" fill="#ff9999"/>
<rect x="871.2" y="264" width="4.6" height="8" rx="2.3" fill="#ff9999"/>
<rect x="876.9" y="264" width="4.6" height="8" rx="2.3" fill="#ff9999"/>
<rect x="865.5" y="281.4" width="4.6" height="8.2" rx="2.3" fill="#ff9999"/>
<rect x="876.9" y="281.4" width="4.6" height="8.2" rx="2.3" fill="#ff9999"/>
<circle cx="883.6" cy="268.1" r="1.1" fill="#c0c0c0"/>
<rect x="865.7" y="292" width="4.15" height="3.6" fill="#ff9999"/>
<rect x="870.85" y="292" width="4.15" height="3.6" fill="#ff9999"/>
<rect x="865.2" y="291.5" width="10.3" height="4.6" fill="none" stroke="#c0c0c0" stroke-width="0.5"/>
<rect x="859.7" y="303.8" width="5.25" height="4.2" fill="#ff9999"/>
<rect x="866.45" y="303.8" width="5.25" height="4.2" fill="#ff9999"/>
<rect x="859.2" y="303.3" width="13" height="5.2" fill="none" stroke="#c0c0c0" stroke-width="0.7"/>
<rect x="872.7" y="303.8" width="5.3" height="4.2" fill="#ff9999"/>
<rect x="879.5" y="303.8" width="5.3" height="4.2" fill="#ff9999"/>
<rect x="872.2" y="303.3" width="13.1" height="5.2" fill="none" stroke="#c0c0c0" stroke-width="0.7"/>
<rect x="860.9" y="309.9" width="4.3" height="3.9" fill="#ff9999"/>
<rect x="866.2" y="309.9" width="4.3" height="3.9" fill="#ff9999"/>
<rect x="860.4" y="309.4" width="10.6" height="4.9" fill="none" stroke="#c0c0c0" stroke-width="0.5"/>
<rect x="918.7" y="175.2" width="5.15" height="4.1" fill="#ff9999"/>
<rect x="925.35" y="175.2" width="5.15" height="4.1" fill="#ff9999"/>
<rect x="918.2" y="174.7" width="12.8" height="5.1" fill="none" stroke="#c0c0c0" stroke-width="0.7"/>
<rect x="932.5" y="175.2" width="5.1" height="4.1" fill="#ff9999"/>
<rect x="939.1" y="175.2" width="5.1" height="4.1" fill="#ff9999"/>
<rect x="932" y="174.7" width="12.7" height="5.1" fill="none" stroke="#c0c0c0" stroke-width="0.7"/>
<rect x="921.1" y="180.8" width="9.2" height="6.8" fill="#ff9999"/>
<rect x="921.1" y="191.6" width="9.2" height="6.8" fill="#ff9999"/>
<rect x="920.6" y="180.3" width="10.2" height="18.6" fill="none" stroke="#c0c0c0" stroke-width="0.7"/>
<rect x="932.1" y="180.8" width="9.2" height="6.8" fill="#ff9999"/>
<rect x="932.1" y="191.6" width="9.2" height="6.8" fill="#ff9999"/>
<rect x="931.6" y="180.3" width="10.2" height="18.6" fill="none" stroke="#c0c0c0" stroke-width="0.7"/>
<path d="M920.6 188.9 L941.8 188.9" fill="none" stroke="#c0c0c0" stroke-width="0.6"/>
<path d="M920.6 190.4 L941.8 190.4" fill="none" stroke="#c0c0c0" stroke-width="0.6"/>
<rect x="914.7" y="187.3" width="4.7" height="4.9" fill="#ff9999"/>
<rect x="914.7" y="193.7" width="4.7" height="4.9" fill="#ff9999"/>
<rect x="914.2" y="186.8" width="5.7" height="12.3" fill="none" stroke="#c0c0c0" stroke-width="0.7"/>
<rect x="942.7" y="180.9" width="4.85" height="4.3" fill="#ff9999"/>
<rect x="949.05" y="180.9" width="4.85" height="4.3" fill="#ff9999"/>
<rect x="942.2" y="180.4" width="12.2" height="5.3" fill="none" stroke="#c0c0c0" stroke-width="0.7"/>
<rect x="942.5" y="186.3" width="4.5" height="5.2" fill="#ff9999"/>
<rect x="942.5" y="193" width="4.5" height="5.2" fill="#ff9999"/>
<rect x="942.2" y="186" width="5.1" height="12.5" fill="none" stroke="#c0c0c0" stroke-width="0.6"/>
<rect x="947.6" y="186.3" width="4.5" height="5.2" fill="#ff9999"/>
<rect x="947.6" y="193" width="4.5" height="5.2" fill="#ff9999"/>
<rect x="947.3" y="186" width="5.1" height="12.5" fill="none" stroke="#c0c0c0" stroke-width="0.6"/>
<rect x="952.7" y="186.3" width="4.5" height="5.2" fill="#ff9999"/>
<rect x="952.7" y="193" width="4.5" height="5.2" fill="#ff9999"/>
<rect x="952.4" y="186" width="5.1" height="12.5" fill="none" stroke="#c0c0c0" stroke-width="0.6"/>
<rect x="921.1" y="199.6" width="4.4" height="4.4" fill="#ff9999"/>
<rect x="926.5" y="199.6" width="4.4" height="4.4" fill="#ff9999"/>
<rect x="920.6" y="199.1" width="10.8" height="5.4" fill="none" stroke="#c0c0c0" stroke-width="0.6"/>
<rect x="931.9" y="199.6" width="4.8" height="4.4" fill="#ff9999"/>
<rect x="937.7" y="199.6" width="4.8" height="4.4" fill="#ff9999"/>
<rect x="931.4" y="199.1" width="11.6" height="5.4" fill="none" stroke="#c0c0c0" stroke-width="0.6"/>
<rect x="919.3" y="205.1" width="5.05" height="4" fill="#ff9999"/>
<rect x="925.85" y="205.1" width="5.05" height="4" fill="#ff9999"/>
<rect x="918.8" y="204.6" width="12.6" height="5" fill="none" stroke="#c0c0c0" stroke-width="0.7"/>
<rect x="931.9" y="205.1" width="5.05" height="4" fill="#ff9999"/>
<rect x="938.45" y="205.1" width="5.05" height="4" fill="#ff9999"/>
<rect x="931.4" y="204.6" width="12.6" height="5" fill="none" stroke="#c0c0c0" stroke-width="0.7"/>
<rect x="960.1" y="180.1" width="20.5" height="9.5" fill="#ff9999"/>
<rect x="960.1" y="205.2" width="20.5" height="9.5" fill="#ff9999"/>
<path d="M959.4 180 L959.4 215" fill="none" stroke="#c0c0c0" stroke-width="0.9"/>
<path d="M981.4 180 L981.4 215" fill="none" stroke="#c0c0c0" stroke-width="0.9"/>
<rect x="984.9" y="180.1" width="20.5" height="9.5" fill="#ff9999"/>
<rect x="984.9" y="205.2" width="20.5" height="9.5" fill="#ff9999"/>
<path d="M984.2 180 L984.2 215" fill="none" stroke="#c0c0c0" stroke-width="0.9"/>
<path d="M1006.2 180 L1006.2 215" fill="none" stroke="#c0c0c0" stroke-width="0.9"/>
<rect x="902.4" y="217.8" width="45.1" height="40.5" fill="none" stroke="#c0c0c0" stroke-width="1.3"/>
<rect x="899.7" y="227" width="14.6" height="21.7" fill="#ff9999"/>
<rect x="935.7" y="227" width="14.8" height="21.7" fill="#ff9999"/>
<path d="M958 221.5 H1001.9 V255.4 H958 L955 252.4 V224.5 Z" fill="none" stroke="#c0c0c0" stroke-width="1.3"/>
<rect x="955" y="227.8" width="8" height="20.8" fill="#ff9999"/>
<rect x="993.4" y="227.8" width="8.5" height="20.8" fill="#ff9999"/>
<rect x="888.7" y="332.2" width="45.4" height="40.3" fill="none" stroke="#c0c0c0" stroke-width="1.3"/>
<rect x="886.1" y="341.5" width="14.8" height="21.6" fill="#ff9999"/>
<rect x="922.2" y="341.5" width="14.8" height="21.6" fill="#ff9999"/>
<clipPath id="hc2"><path d="M889.4 285.5 A24.1 24.1 0 0 0 937.6 285.5 Z"/></clipPath>
<path d="M887.4 203.2 L939.6 255.4 M887.4 207.05 L939.6 259.25 M887.4 210.9 L939.6 263.1 M887.4 214.75 L939.6 266.95 M887.4 218.6 L939.6 270.8 M887.4 222.45 L939.6 274.65 M887.4 226.3 L939.6 278.5 M887.4 230.15 L939.6 282.35 M887.4 234 L939.6 286.2 M887.4 237.85 L939.6 290.05 M887.4 241.7 L939.6 293.9 M887.4 245.55 L939.6 297.75 M887.4 249.4 L939.6 301.6 M887.4 253.25 L939.6 305.45 M887.4 257.1 L939.6 309.3 M887.4 260.95 L939.6 313.15 M887.4 264.8 L939.6 317 M887.4 268.65 L939.6 320.85 M887.4 272.5 L939.6 324.7 M887.4 276.35 L939.6 328.55 M887.4 280.2 L939.6 332.4 M887.4 284.05 L939.6 336.25 M887.4 287.9 L939.6 340.1 M887.4 291.75 L939.6 343.95 M887.4 295.6 L939.6 347.8 M887.4 299.45 L939.6 351.65 M887.4 303.3 L939.6 355.5 M887.4 307.15 L939.6 359.35 M887.4 311 L939.6 363.2 M887.4 314.85 L939.6 367.05" clip-path="url(#hc2)" stroke="#c0c0c0" stroke-width="1.1" fill="none"/>
<circle cx="913.5" cy="285.5" r="24.1" fill="none" stroke="#c0c0c0" stroke-width="1.5"/>
<path d="M889.4 285.5 L937.6 285.5" fill="none" stroke="#c0c0c0" stroke-width="1.5"/>
<circle cx="913.5" cy="275.2" r="4" fill="#ff9999"/>
<circle cx="913.5" cy="296.2" r="4" fill="#ff9999"/>
<path d="M919.6 275.2 L930.8 275.2" fill="none" stroke="#c0c0c0" stroke-width="1.5"/>
<path d="M925.2 269.6 L925.2 280.8" fill="none" stroke="#c0c0c0" stroke-width="1.5"/>
<clipPath id="hc3"><path d="M939.75 354.6 A24.1 24.1 0 0 1 987.95 354.6 Z"/></clipPath>
<path d="M937.75 272.3 L989.95 324.5 M937.75 276.15 L989.95 328.35 M937.75 280 L989.95 332.2 M937.75 283.85 L989.95 336.05 M937.75 287.7 L989.95 339.9 M937.75 291.55 L989.95 343.75 M937.75 295.4 L989.95 347.6 M937.75 299.25 L989.95 351.45 M937.75 303.1 L989.95 355.3 M937.75 306.95 L989.95 359.15 M937.75 310.8 L989.95 363 M937.75 314.65 L989.95 366.85 M937.75 318.5 L989.95 370.7 M937.75 322.35 L989.95 374.55 M937.75 326.2 L989.95 378.4 M937.75 330.05 L989.95 382.25 M937.75 333.9 L989.95 386.1 M937.75 337.75 L989.95 389.95 M937.75 341.6 L989.95 393.8 M937.75 345.45 L989.95 397.65 M937.75 349.3 L989.95 401.5 M937.75 353.15 L989.95 405.35 M937.75 357 L989.95 409.2 M937.75 360.85 L989.95 413.05 M937.75 364.7 L989.95 416.9 M937.75 368.55 L989.95 420.75 M937.75 372.4 L989.95 424.6 M937.75 376.25 L989.95 428.45 M937.75 380.1 L989.95 432.3 M937.75 383.95 L989.95 436.15" clip-path="url(#hc3)" stroke="#c0c0c0" stroke-width="1.1" fill="none"/>
<circle cx="963.85" cy="354.6" r="24.1" fill="none" stroke="#c0c0c0" stroke-width="1.5"/>
<path d="M939.75 354.6 L987.95 354.6" fill="none" stroke="#c0c0c0" stroke-width="1.5"/>
<circle cx="963.85" cy="344.1" r="4" fill="#ff9999"/>
<circle cx="963.85" cy="365.1" r="4" fill="#ff9999"/>
<path d="M946.5 365.1 L957.7 365.1" fill="none" stroke="#c0c0c0" stroke-width="1.5"/>
<path d="M952.1 359.5 L952.1 370.7" fill="none" stroke="#c0c0c0" stroke-width="1.5"/>
<path d="M987.9 354.6 L989 354.6" fill="none" stroke="#c0c0c0" stroke-width="1.5"/>
<clipPath id="hc4"><path d="M873.9 402.3 A24.1 24.1 0 0 0 922.1 402.3 Z"/></clipPath>
<path d="M871.9 320 L924.1 372.2 M871.9 323.85 L924.1 376.05 M871.9 327.7 L924.1 379.9 M871.9 331.55 L924.1 383.75 M871.9 335.4 L924.1 387.6 M871.9 339.25 L924.1 391.45 M871.9 343.1 L924.1 395.3 M871.9 346.95 L924.1 399.15 M871.9 350.8 L924.1 403 M871.9 354.65 L924.1 406.85 M871.9 358.5 L924.1 410.7 M871.9 362.35 L924.1 414.55 M871.9 366.2 L924.1 418.4 M871.9 370.05 L924.1 422.25 M871.9 373.9 L924.1 426.1 M871.9 377.75 L924.1 429.95 M871.9 381.6 L924.1 433.8 M871.9 385.45 L924.1 437.65 M871.9 389.3 L924.1 441.5 M871.9 393.15 L924.1 445.35 M871.9 397 L924.1 449.2 M871.9 400.85 L924.1 453.05 M871.9 404.7 L924.1 456.9 M871.9 408.55 L924.1 460.75 M871.9 412.4 L924.1 464.6 M871.9 416.25 L924.1 468.45 M871.9 420.1 L924.1 472.3 M871.9 423.95 L924.1 476.15 M871.9 427.8 L924.1 480 M871.9 431.65 L924.1 483.85" clip-path="url(#hc4)" stroke="#c0c0c0" stroke-width="1.1" fill="none"/>
<circle cx="898" cy="402.3" r="24.1" fill="none" stroke="#c0c0c0" stroke-width="1.5"/>
<path d="M873.9 402.3 L922.1 402.3" fill="none" stroke="#c0c0c0" stroke-width="1.5"/>
<circle cx="898" cy="391.4" r="4" fill="#ff9999"/>
<circle cx="898" cy="412.5" r="4" fill="#ff9999"/>
<path d="M904 391.3 L915.2 391.3" fill="none" stroke="#c0c0c0" stroke-width="1.5"/>
<path d="M909.6 385.7 L909.6 396.9" fill="none" stroke="#c0c0c0" stroke-width="1.5"/>
<path d="M940.5 271.4 H971.8 V279 A3 3 0 0 0 971.8 285 V292.8 H940.5 Z" fill="none" stroke="#c0c0c0" stroke-width="1.4"/>
<rect x="946.5" y="272.7" width="18.9" height="18.8" fill="#ff9999"/>
<rect x="942.3" y="260.1" width="4.6" height="10.1" rx="2.3" fill="#ff9999"/>
<rect x="942.3" y="294" width="4.6" height="9.9" rx="2.3" fill="#ff9999"/>
<rect x="950" y="260.1" width="4.6" height="10.1" rx="2.3" fill="#ff9999"/>
<rect x="950" y="294" width="4.6" height="9.9" rx="2.3" fill="#ff9999"/>
<rect x="957.6" y="260.1" width="4.6" height="10.1" rx="2.3" fill="#ff9999"/>
<rect x="957.6" y="294" width="4.6" height="9.9" rx="2.3" fill="#ff9999"/>
<rect x="965.1" y="260.1" width="4.6" height="10.1" rx="2.3" fill="#ff9999"/>
<rect x="965.1" y="294" width="4.6" height="9.9" rx="2.3" fill="#ff9999"/>
<rect x="974.6" y="263.4" width="3.6" height="3.9" fill="#ff9999"/>
<rect x="974.6" y="268.5" width="3.6" height="3.9" fill="#ff9999"/>
<rect x="974.1" y="262.9" width="4.6" height="10" fill="none" stroke="#c0c0c0" stroke-width="0.5"/>
<rect x="937.4" y="308" width="4.2" height="4.85" fill="#ff9999"/>
<rect x="937.4" y="314.35" width="4.2" height="4.85" fill="#ff9999"/>
<rect x="936.9" y="307.5" width="5.2" height="12.2" fill="none" stroke="#c0c0c0" stroke-width="0.7"/>
<rect x="942.6" y="308" width="4.3" height="4.85" fill="#ff9999"/>
<rect x="942.6" y="314.35" width="4.3" height="4.85" fill="#ff9999"/>
<rect x="942.1" y="307.5" width="5.3" height="12.2" fill="none" stroke="#c0c0c0" stroke-width="0.7"/>
<rect x="950.8" y="309" width="3.5" height="4.15" fill="#ff9999"/>
<rect x="950.8" y="314.35" width="3.5" height="4.15" fill="#ff9999"/>
<rect x="950.3" y="308.5" width="4.5" height="10.5" fill="none" stroke="#c0c0c0" stroke-width="0.5"/>
<rect x="950.8" y="319.5" width="3.5" height="4.9" fill="#ff9999"/>
<rect x="950.8" y="325.9" width="3.5" height="4.9" fill="#ff9999"/>
<rect x="950.3" y="319" width="4.5" height="12.3" fill="none" stroke="#c0c0c0" stroke-width="0.5"/>
<rect x="957.9" y="308" width="4" height="4.85" fill="#ff9999"/>
<rect x="957.9" y="314.35" width="4" height="4.85" fill="#ff9999"/>
<rect x="957.4" y="307.5" width="5" height="12.2" fill="none" stroke="#c0c0c0" stroke-width="0.7"/>
<rect x="965.9" y="308.3" width="3.6" height="3.85" fill="#ff9999"/>
<rect x="965.9" y="313.35" width="3.6" height="3.85" fill="#ff9999"/>
<rect x="965.4" y="307.8" width="4.6" height="9.9" fill="none" stroke="#c0c0c0" stroke-width="0.5"/>
<path d="M924.2 390.9 H955.2 V398.5 A3 3 0 0 0 955.2 404.5 V412.2 H924.2 Z" fill="none" stroke="#c0c0c0" stroke-width="1.4"/>
<rect x="929.9" y="392.9" width="19.3" height="17.6" fill="#ff9999"/>
<rect x="925.9" y="380.2" width="4.6" height="9.4" rx="2.3" fill="#ff9999"/>
<rect x="925.9" y="414.2" width="4.6" height="9" rx="2.3" fill="#ff9999"/>
<rect x="933.6" y="380.2" width="4.6" height="9.4" rx="2.3" fill="#ff9999"/>
<rect x="933.6" y="414.2" width="4.6" height="9" rx="2.3" fill="#ff9999"/>
<rect x="941.3" y="380.2" width="4.6" height="9.4" rx="2.3" fill="#ff9999"/>
<rect x="941.3" y="414.2" width="4.6" height="9" rx="2.3" fill="#ff9999"/>
<rect x="948.9" y="380.2" width="4.6" height="9.4" rx="2.3" fill="#ff9999"/>
<rect x="948.9" y="414.2" width="4.6" height="9" rx="2.3" fill="#ff9999"/>
<rect x="959" y="383.2" width="3.6" height="3.9" fill="#ff9999"/>
<rect x="959" y="388.3" width="3.6" height="3.9" fill="#ff9999"/>
<rect x="958.5" y="382.7" width="4.6" height="10" fill="none" stroke="#c0c0c0" stroke-width="0.5"/>
<rect x="920.9" y="427.3" width="4.2" height="4.5" fill="#ff9999"/>
<rect x="926.3" y="427.3" width="4.2" height="4.5" fill="#ff9999"/>
<rect x="920.4" y="426.8" width="10.6" height="5.5" fill="none" stroke="#c0c0c0" stroke-width="0.5"/>
<rect x="931.5" y="427.3" width="4.4" height="4.5" fill="#ff9999"/>
<rect x="937.1" y="427.3" width="4.4" height="4.5" fill="#ff9999"/>
<rect x="931" y="426.8" width="11" height="5.5" fill="none" stroke="#c0c0c0" stroke-width="0.5"/>
<rect x="942.5" y="427.3" width="4.4" height="4.5" fill="#ff9999"/>
<rect x="948.1" y="427.3" width="4.4" height="4.5" fill="#ff9999"/>
<rect x="942" y="426.8" width="11" height="5.5" fill="none" stroke="#c0c0c0" stroke-width="0.5"/>
<rect x="920.9" y="433.3" width="4.2" height="4.5" fill="#ff9999"/>
<rect x="926.3" y="433.3" width="4.2" height="4.5" fill="#ff9999"/>
<rect x="920.4" y="432.8" width="10.6" height="5.5" fill="none" stroke="#c0c0c0" stroke-width="0.5"/>
<rect x="931.5" y="433.3" width="4.4" height="4.5" fill="#ff9999"/>
<rect x="937.1" y="433.3" width="4.4" height="4.5" fill="#ff9999"/>
<rect x="931" y="432.8" width="11" height="5.5" fill="none" stroke="#c0c0c0" stroke-width="0.5"/>
<rect x="942.5" y="433.3" width="4.15" height="4.5" fill="#ff9999"/>
<rect x="947.85" y="433.3" width="4.15" height="4.5" fill="#ff9999"/>
<rect x="942" y="432.8" width="10.5" height="5.5" fill="none" stroke="#c0c0c0" stroke-width="0.5"/>
<rect x="976.6" y="399.7" width="4.2" height="4.05" fill="#ff9999"/>
<rect x="976.6" y="404.95" width="4.2" height="4.05" fill="#ff9999"/>
<rect x="976.1" y="399.2" width="5.2" height="10.3" fill="none" stroke="#c0c0c0" stroke-width="0.5"/>
<rect x="982.6" y="403" width="12" height="9" rx="2" fill="#ff9999"/>
<path d="M982.6 407.5 L994.6 407.5" fill="none" stroke="#fff" stroke-width="0.7"/>
<path d="M985.6 403 L985.6 412" fill="none" stroke="#fff" stroke-width="0.6"/>
<path d="M988.6 403 L988.6 412" fill="none" stroke="#fff" stroke-width="0.9"/>
<path d="M991.6 403 L991.6 412" fill="none" stroke="#fff" stroke-width="0.6"/>
<path d="M987.5 412 L987.5 414.2" fill="none" stroke="#c0c0c0" stroke-width="0.7"/>
<rect x="1003.8" y="382.9" width="5.35" height="5.34" fill="#ff9999"/>
<rect x="1010.65" y="382.9" width="5.35" height="5.34" fill="#ff9999"/>
<rect x="1003.4" y="382.5" width="13" height="6.14" fill="none" stroke="#c0c0c0" stroke-width="0.6"/>
<rect x="1003.8" y="389.04" width="5.35" height="5.34" fill="#ff9999"/>
<rect x="1010.65" y="389.04" width="5.35" height="5.34" fill="#ff9999"/>
<rect x="1003.4" y="388.64" width="13" height="6.14" fill="none" stroke="#c0c0c0" stroke-width="0.6"/>
<rect x="1003.8" y="395.18" width="5.35" height="5.34" fill="#ff9999"/>
<rect x="1010.65" y="395.18" width="5.35" height="5.34" fill="#ff9999"/>
<rect x="1003.4" y="394.78" width="13" height="6.14" fill="none" stroke="#c0c0c0" stroke-width="0.6"/>
<rect x="1003.8" y="401.32" width="5.35" height="5.34" fill="#ff9999"/>
<rect x="1010.65" y="401.32" width="5.35" height="5.34" fill="#ff9999"/>
<rect x="1003.4" y="400.92" width="13" height="6.14" fill="none" stroke="#c0c0c0" stroke-width="0.6"/>
<rect x="1003.8" y="407.46" width="5.35" height="5.34" fill="#ff9999"/>
<rect x="1010.65" y="407.46" width="5.35" height="5.34" fill="#ff9999"/>
<rect x="1003.4" y="407.06" width="13" height="6.14" fill="none" stroke="#c0c0c0" stroke-width="0.6"/>
<rect x="1000.2" y="414.3" width="7" height="6.9" fill="#ff9999"/>
<rect x="1009.4" y="414.3" width="7" height="6.9" fill="#ff9999"/>
<rect x="999.7" y="413.8" width="17.2" height="7.9" fill="none" stroke="#c0c0c0" stroke-width="0.7"/>
<rect x="1020.3" y="387.1" width="34.6" height="46.9" fill="none" stroke="#c0c0c0" stroke-width="1.3"/>
<path d="M1051.1 387.1 L1051.1 434" fill="none" stroke="#c0c0c0" stroke-width="1.3"/>
<ellipse cx="1040.3" cy="388.9" rx="4.8" ry="3.3" fill="#ff9999"/>
<ellipse cx="1040.3" cy="432.2" rx="4.8" ry="3.3" fill="#ff9999"/>
<circle cx="1024.8" cy="396.2" r="3.6" fill="#ff9999"/>
<circle cx="1024.8" cy="424.9" r="3.6" fill="#ff9999"/>
<rect x="1020.9" y="401.4" width="9.1" height="2.75" fill="#ff9999"/>
<rect x="1020.9" y="405.3" width="9.1" height="2.75" fill="#ff9999"/>
<rect x="1020.9" y="409.2" width="9.1" height="2.75" fill="#ff9999"/>
<rect x="1020.9" y="413.1" width="9.1" height="2.75" fill="#ff9999"/>
<rect x="1020.9" y="417" width="9.1" height="2.75" fill="#ff9999"/>
<path d="M1020.3 237.29999999999998 V222.1 H1053.8 V297.6 H1020.3 V282.4" fill="none" stroke="#c0c0c0" stroke-width="1.3"/>
<circle cx="1032.4" cy="237.25" r="5.9" fill="#ff9999"/>
<circle cx="1032.4" cy="252.38" r="5.9" fill="#ff9999"/>
<circle cx="1032.4" cy="267.51" r="5.9" fill="#ff9999"/>
<circle cx="1032.4" cy="282.64" r="5.9" fill="#ff9999"/>
<path d="M1020.3 316.09999999999997 V300.9 H1053.8 V376.4 H1020.3 V361.2" fill="none" stroke="#c0c0c0" stroke-width="1.3"/>
<circle cx="1032.4" cy="316.05" r="5.9" fill="#ff9999"/>
<circle cx="1032.4" cy="331.18" r="5.9" fill="#ff9999"/>
<circle cx="1032.4" cy="346.31" r="5.9" fill="#ff9999"/>
<circle cx="1032.4" cy="361.44" r="5.9" fill="#ff9999"/>
<path d="M1033 447.1 H1041.2 M1029 451.4 V485.9 M1046.7 451.4 V485.9 M1033 489.1 H1041.2" fill="none" stroke="#c0c0c0" stroke-width="1.4"/>
<rect x="1046.9" y="460.4" width="7.6" height="7.3" fill="none" stroke="#c0c0c0" stroke-width="1.3"/>
<rect x="1027.5" y="442.3" width="5.5" height="9.1" fill="#ff9999"/>
<rect x="1041.2" y="442.3" width="5.7" height="9.1" fill="#ff9999"/>
<rect x="1027.5" y="485.9" width="5.5" height="9.1" fill="#ff9999"/>
<rect x="1041.2" y="485.9" width="5.7" height="9.1" fill="#ff9999"/>
<rect x="1019" y="452.6" width="13.1" height="5.4" fill="#ff9999"/>
<rect x="1019" y="461" width="13.1" height="5.9" fill="#ff9999"/>
<rect x="1019" y="479.2" width="13.1" height="5.7" fill="#ff9999"/>
<circle cx="1037.2" cy="459.6" r="2.8" fill="#ff9999"/>
<circle cx="1037.2" cy="477.6" r="2.8" fill="#ff9999"/>
<path d="M987.9 471.3 H975.4 V500.4 H1011.7 V471.3 H999" fill="none" stroke="#c0c0c0" stroke-width="1.4"/>
<circle cx="987.5" cy="482.2" r="4.5" fill="#ff9999"/>
<circle cx="999.4" cy="482.2" r="4.5" fill="#ff9999"/>
<rect x="953.5" y="483.7" width="7.2" height="7" fill="#ff9999"/>
<rect x="962.9" y="483.7" width="7.2" height="7" fill="#ff9999"/>
<rect x="953" y="483.2" width="17.6" height="8" fill="none" stroke="#c0c0c0" stroke-width="0.7"/>
<rect x="919.3" y="474.2" width="20.5" height="18.6" fill="#ff9999"/>
<path d="M918.8 468.1 H926.5 A3 3 0 0 0 932.5 468.1 H940.2 V498.7 H918.8 Z" fill="none" stroke="#c0c0c0" stroke-width="1.7"/>
<rect x="907.8" y="469.65" width="10.1" height="4.5" rx="2.25" fill="#ff9999"/>
<rect x="941.2" y="469.65" width="10" height="4.5" rx="2.25" fill="#ff9999"/>
<rect x="907.8" y="477.15" width="10.1" height="4.5" rx="2.25" fill="#ff9999"/>
<rect x="941.2" y="477.15" width="10" height="4.5" rx="2.25" fill="#ff9999"/>
<rect x="907.8" y="484.75" width="10.1" height="4.5" rx="2.25" fill="#ff9999"/>
<rect x="941.2" y="484.75" width="10" height="4.5" rx="2.25" fill="#ff9999"/>
<rect x="907.8" y="492.25" width="10.1" height="4.5" rx="2.25" fill="#ff9999"/>
<rect x="941.2" y="492.25" width="10" height="4.5" rx="2.25" fill="#ff9999"/>
<rect x="894.5" y="477.9" width="4.15" height="3.6" fill="#ff9999"/>
<rect x="899.65" y="477.9" width="4.15" height="3.6" fill="#ff9999"/>
<rect x="894" y="477.4" width="10.3" height="4.6" fill="none" stroke="#c0c0c0" stroke-width="0.5"/>
<rect x="882.7" y="484.1" width="4.65" height="5.1" fill="#ff9999"/>
<rect x="888.55" y="484.1" width="4.65" height="5.1" fill="#ff9999"/>
<rect x="882.2" y="483.6" width="11.5" height="6.1" fill="none" stroke="#c0c0c0" stroke-width="0.5"/>
<rect x="894.5" y="484.1" width="4.7" height="5.1" fill="#ff9999"/>
<rect x="900.4" y="484.1" width="4.7" height="5.1" fill="#ff9999"/>
<rect x="894" y="483.6" width="11.6" height="6.1" fill="none" stroke="#c0c0c0" stroke-width="0.5"/>
<rect x="882.7" y="491.1" width="4.65" height="4.5" fill="#ff9999"/>
<rect x="888.55" y="491.1" width="4.65" height="4.5" fill="#ff9999"/>
<rect x="882.2" y="490.6" width="11.5" height="5.5" fill="none" stroke="#c0c0c0" stroke-width="0.5"/>
<rect x="894.5" y="491.1" width="4.7" height="4.5" fill="#ff9999"/>
<rect x="900.4" y="491.1" width="4.7" height="4.5" fill="#ff9999"/>
<rect x="894" y="490.6" width="11.6" height="5.5" fill="none" stroke="#c0c0c0" stroke-width="0.5"/>
<path d="M955.5 531.3 V524.6 H997.4 V531.3 M961 539.2 H992.2" fill="none" stroke="#c0c0c0" stroke-width="1.4"/>
<rect x="960" y="520.3" width="7.9" height="7.6" fill="#ff9999"/>
<rect x="985" y="520.3" width="7.9" height="7.6" fill="#ff9999"/>
<rect x="950.7" y="531.3" width="10.3" height="9.6" fill="#ff9999"/>
<rect x="992.2" y="531.3" width="9.7" height="9.6" fill="#ff9999"/>
<circle cx="969.5" cy="532.8" r="2.6" fill="#ff9999"/>
<circle cx="983.4" cy="532.8" r="2.6" fill="#ff9999"/>
<rect x="961.5" y="512.2" width="5.05" height="4.4" fill="#ff9999"/>
<rect x="968.05" y="512.2" width="5.05" height="4.4" fill="#ff9999"/>
<rect x="961" y="511.7" width="12.6" height="5.4" fill="none" stroke="#c0c0c0" stroke-width="0.7"/>
<circle cx="1004.2" cy="512.6" r="3.6" fill="#ff9999"/>
<path d="M288.3 540.9 L943.7 540.9" fill="none" stroke="#c0c0c0" stroke-width="1.4"/>
<path d="M288.3 513.1 L300.3 513.1" fill="none" stroke="#c0c0c0" stroke-width="1.4"/>
<path d="M312.5 513.1 L324.5 513.1" fill="none" stroke="#c0c0c0" stroke-width="1.4"/>
<circle cx="300.3" cy="523.4" r="4.45" fill="#ff9999"/>
<circle cx="312.2" cy="523.4" r="4.45" fill="#ff9999"/>
<path d="M324.5 513.1 L343.2 513.1" fill="none" stroke="#c0c0c0" stroke-width="1.4"/>
<path d="M390.5 513.1 L409.2 513.1" fill="none" stroke="#c0c0c0" stroke-width="1.4"/>
<circle cx="337.3" cy="523.4" r="4.45" fill="#ff9999"/>
<circle cx="349.23" cy="523.4" r="4.45" fill="#ff9999"/>
<circle cx="361.16" cy="523.4" r="4.45" fill="#ff9999"/>
<circle cx="373.09" cy="523.4" r="4.45" fill="#ff9999"/>
<circle cx="385.02" cy="523.4" r="4.45" fill="#ff9999"/>
<circle cx="396.95" cy="523.4" r="4.45" fill="#ff9999"/>
<path d="M409.2 513.1 L427.9 513.1" fill="none" stroke="#c0c0c0" stroke-width="1.4"/>
<path d="M439.4 513.1 L458.1 513.1" fill="none" stroke="#c0c0c0" stroke-width="1.4"/>
<circle cx="421.5" cy="523.4" r="4.45" fill="#ff9999"/>
<circle cx="433.43" cy="523.4" r="4.45" fill="#ff9999"/>
<circle cx="445.36" cy="523.4" r="4.45" fill="#ff9999"/>
<path d="M458.1 513.1 L476.8 513.1" fill="none" stroke="#c0c0c0" stroke-width="1.4"/>
<path d="M499.7 513.1 L518.4 513.1" fill="none" stroke="#c0c0c0" stroke-width="1.4"/>
<circle cx="470.4" cy="523.4" r="4.45" fill="#ff9999"/>
<circle cx="482.33" cy="523.4" r="4.45" fill="#ff9999"/>
<circle cx="494.26" cy="523.4" r="4.45" fill="#ff9999"/>
<circle cx="506.19" cy="523.4" r="4.45" fill="#ff9999"/>
<path d="M518.4 513.1 L537.1 513.1" fill="none" stroke="#c0c0c0" stroke-width="1.4"/>
<path d="M560.9 513.1 L579.6 513.1" fill="none" stroke="#c0c0c0" stroke-width="1.4"/>
<circle cx="530.6" cy="523.4" r="4.45" fill="#ff9999"/>
<circle cx="542.53" cy="523.4" r="4.45" fill="#ff9999"/>
<circle cx="554.46" cy="523.4" r="4.45" fill="#ff9999"/>
<circle cx="566.39" cy="523.4" r="4.45" fill="#ff9999"/>
<path d="M579.6 513.1 L598.3 513.1" fill="none" stroke="#c0c0c0" stroke-width="1.4"/>
<path d="M633.2 513.1 L651.9 513.1" fill="none" stroke="#c0c0c0" stroke-width="1.4"/>
<circle cx="591.9" cy="523.4" r="4.45" fill="#ff9999"/>
<circle cx="603.83" cy="523.4" r="4.45" fill="#ff9999"/>
<circle cx="615.76" cy="523.4" r="4.45" fill="#ff9999"/>
<circle cx="627.69" cy="523.4" r="4.45" fill="#ff9999"/>
<circle cx="639.62" cy="523.4" r="4.45" fill="#ff9999"/>
<path d="M651.9 513.1 L670.6 513.1" fill="none" stroke="#c0c0c0" stroke-width="1.4"/>
<path d="M706 513.1 L724.7 513.1" fill="none" stroke="#c0c0c0" stroke-width="1.4"/>
<circle cx="664" cy="523.4" r="4.45" fill="#ff9999"/>
<circle cx="675.93" cy="523.4" r="4.45" fill="#ff9999"/>
<circle cx="687.86" cy="523.4" r="4.45" fill="#ff9999"/>
<circle cx="699.79" cy="523.4" r="4.45" fill="#ff9999"/>
<circle cx="711.72" cy="523.4" r="4.45" fill="#ff9999"/>
<path d="M724.7 513.1 L743.4 513.1" fill="none" stroke="#c0c0c0" stroke-width="1.4"/>
<path d="M766.7 513.1 L785.4 513.1" fill="none" stroke="#c0c0c0" stroke-width="1.4"/>
<circle cx="737.4" cy="523.4" r="4.45" fill="#ff9999"/>
<circle cx="749.33" cy="523.4" r="4.45" fill="#ff9999"/>
<circle cx="761.26" cy="523.4" r="4.45" fill="#ff9999"/>
<circle cx="773.19" cy="523.4" r="4.45" fill="#ff9999"/>
<path d="M785.4 513.1 L804.1 513.1" fill="none" stroke="#c0c0c0" stroke-width="1.4"/>
<path d="M828.1 513.1 L846.8 513.1" fill="none" stroke="#c0c0c0" stroke-width="1.4"/>
<circle cx="797.8" cy="523.4" r="4.45" fill="#ff9999"/>
<circle cx="809.73" cy="523.4" r="4.45" fill="#ff9999"/>
<circle cx="821.66" cy="523.4" r="4.45" fill="#ff9999"/>
<circle cx="833.59" cy="523.4" r="4.45" fill="#ff9999"/>
<path d="M846.8 513.1 L865.5 513.1" fill="none" stroke="#c0c0c0" stroke-width="1.4"/>
<path d="M876.5 513.1 L895.2 513.1" fill="none" stroke="#c0c0c0" stroke-width="1.4"/>
<circle cx="859.1" cy="523.4" r="4.45" fill="#ff9999"/>
<circle cx="871.03" cy="523.4" r="4.45" fill="#ff9999"/>
<circle cx="882.96" cy="523.4" r="4.45" fill="#ff9999"/>
<path d="M895.2 513.1 L913.9 513.1" fill="none" stroke="#c0c0c0" stroke-width="1.4"/>
<path d="M925 513.1 L943.7 513.1" fill="none" stroke="#c0c0c0" stroke-width="1.4"/>
<circle cx="907.4" cy="523.4" r="4.45" fill="#ff9999"/>
<circle cx="919.33" cy="523.4" r="4.45" fill="#ff9999"/>
<circle cx="931.26" cy="523.4" r="4.45" fill="#ff9999"/>
<path d="M288.3 512.4 L288.3 541.6" fill="none" stroke="#c0c0c0" stroke-width="1.4"/>
<path d="M324.5 512.4 L324.5 541.6" fill="none" stroke="#c0c0c0" stroke-width="2.4"/>
<path d="M409.2 512.4 L409.2 541.6" fill="none" stroke="#c0c0c0" stroke-width="2.4"/>
<path d="M458.1 512.4 L458.1 541.6" fill="none" stroke="#c0c0c0" stroke-width="2.4"/>
<path d="M518.4 512.4 L518.4 541.6" fill="none" stroke="#c0c0c0" stroke-width="2.4"/>
<path d="M579.6 512.4 L579.6 541.6" fill="none" stroke="#c0c0c0" stroke-width="2.4"/>
<path d="M651.9 512.4 L651.9 541.6" fill="none" stroke="#c0c0c0" stroke-width="2.4"/>
<path d="M724.7 512.4 L724.7 541.6" fill="none" stroke="#c0c0c0" stroke-width="2.4"/>
<path d="M785.4 512.4 L785.4 541.6" fill="none" stroke="#c0c0c0" stroke-width="2.4"/>
<path d="M846.8 512.4 L846.8 541.6" fill="none" stroke="#c0c0c0" stroke-width="2.4"/>
<path d="M895.2 512.4 L895.2 541.6" fill="none" stroke="#c0c0c0" stroke-width="2.4"/>
<path d="M943.7 512.4 L943.7 541.6" fill="none" stroke="#c0c0c0" stroke-width="1.4"/>
<rect x="299.9" y="497.8" width="4.4" height="4.4" fill="#ff9999"/>
<rect x="304.9" y="497.8" width="4.4" height="4.4" fill="#ff9999"/>
<rect x="294.4" y="502.8" width="4.5" height="4.7" fill="#ff9999"/>
<rect x="299.5" y="502.8" width="4.5" height="4.7" fill="#ff9999"/>
<rect x="304.6" y="502.8" width="4.5" height="4.7" fill="#ff9999"/>
<rect x="309.7" y="502.8" width="4.5" height="4.7" fill="#ff9999"/>
<rect x="299.7" y="497.6" width="9.9" height="4.9" fill="none" stroke="#c0c0c0" stroke-width="0.5"/>
<rect x="294.2" y="502.5" width="20.5" height="5.2" fill="none" stroke="#c0c0c0" stroke-width="0.5"/>
<rect x="422" y="484.7" width="4.5" height="4.9" fill="#ff9999"/>
<rect x="422" y="491.1" width="4.5" height="4.9" fill="#ff9999"/>
<rect x="421.5" y="484.2" width="5.5" height="12.3" fill="none" stroke="#c0c0c0" stroke-width="0.7"/>
<rect x="427.5" y="484.7" width="4.6" height="4.9" fill="#ff9999"/>
<rect x="427.5" y="491.1" width="4.6" height="4.9" fill="#ff9999"/>
<rect x="427" y="484.2" width="5.6" height="12.3" fill="none" stroke="#c0c0c0" stroke-width="0.7"/>
<rect x="495.3" y="496.7" width="4.4" height="5.05" fill="#ff9999"/>
<rect x="495.3" y="503.25" width="4.4" height="5.05" fill="#ff9999"/>
<rect x="494.8" y="496.2" width="5.4" height="12.6" fill="none" stroke="#c0c0c0" stroke-width="0.7"/>
<rect x="500.7" y="496.7" width="4.4" height="5.05" fill="#ff9999"/>
<rect x="500.7" y="503.25" width="4.4" height="5.05" fill="#ff9999"/>
<rect x="500.2" y="496.2" width="5.4" height="12.6" fill="none" stroke="#c0c0c0" stroke-width="0.7"/>
<rect x="541" y="488.7" width="4.8" height="5.05" fill="#ff9999"/>
<rect x="541" y="495.25" width="4.8" height="5.05" fill="#ff9999"/>
<rect x="540.5" y="488.2" width="5.8" height="12.6" fill="none" stroke="#c0c0c0" stroke-width="0.7"/>
<rect x="556" y="488.7" width="4.5" height="5.3" fill="#ff9999"/>
<rect x="556" y="495.5" width="4.5" height="5.3" fill="#ff9999"/>
<rect x="555.5" y="488.2" width="5.5" height="13.1" fill="none" stroke="#c0c0c0" stroke-width="0.7"/>
<rect x="564.3" y="488.7" width="4.5" height="5.3" fill="#ff9999"/>
<rect x="564.3" y="495.5" width="4.5" height="5.3" fill="#ff9999"/>
<rect x="563.8" y="488.2" width="5.5" height="13.1" fill="none" stroke="#c0c0c0" stroke-width="0.7"/>
<rect x="579.1" y="488.7" width="4.8" height="5.3" fill="#ff9999"/>
<rect x="579.1" y="495.5" width="4.8" height="5.3" fill="#ff9999"/>
<rect x="578.6" y="488.2" width="5.8" height="13.1" fill="none" stroke="#c0c0c0" stroke-width="0.7"/>
<circle cx="62.7" cy="118.3" r="18.3" fill="#ff9999"/>
<circle cx="62.7" cy="524.1" r="18.3" fill="#ff9999"/>
<circle cx="1035" cy="524.1" r="18.3" fill="#ff9999"/>
<circle cx="1035" cy="186.6" r="18.3" fill="#ff9999"/>
<path d="M368.5 97.3 L42 97.3 L42 545.1 L1056 545.1 L1056 489.5 L1049.4 489.5 L1049.4 383 L1056 383 L1056 97.3" fill="none" stroke="#ff0000" stroke-width="1.6"/>
<path d="M368.5 97.5 L560 97.5" fill="none" stroke="#dc8080" stroke-width="1.5"/>
<path d="M368.5 96.9 L560 96.9" fill="none" stroke="#c4b4b4" stroke-width="0.8"/>
<path d="M560 97.3 L1056 97.3" fill="none" stroke="#ffb0b0" stroke-width="2.3"/>
<path d="M560 97.3 L1056 97.3" fill="none" stroke="#c2b2b2" stroke-width="1"/>
<path d="M42 27 L42 90" fill="none" stroke="#c0c0c0" stroke-width="1.15"/>
<path d="M1056 27 L1056 90" fill="none" stroke="#c0c0c0" stroke-width="1.15"/>
<path d="M42 35 L607 35" fill="none" stroke="#c0c0c0" stroke-width="1.15"/>
<path d="M668.5 35 L1056 35" fill="none" stroke="#c0c0c0" stroke-width="1.15"/>
<path d="M42 35 L57.5 31 L57.5 39 Z" fill="none" stroke="#c0c0c0" stroke-width="0.9"/>
<path d="M1056 35 L1040.5 39 L1040.5 31 Z" fill="none" stroke="#c0c0c0" stroke-width="0.9"/>
<g transform="translate(611.8 38.6)"><text x="0" y="0" font-size="16" textLength="31.3" lengthAdjust="spacingAndGlyphs">170.0</text><text x="31.9" y="0" font-size="16" textLength="20.9" lengthAdjust="spacingAndGlyphs">mm</text></g>
<path d="M62.7 35 L62.7 100" fill="none" stroke="#c0c0c0" stroke-width="1.15"/>
<path d="M1035 35 L1035 168.5" fill="none" stroke="#c0c0c0" stroke-width="1.15"/>
<path d="M62.7 42.5 L518.8 42.5" fill="none" stroke="#c0c0c0" stroke-width="1.15"/>
<path d="M579 42.5 L1035 42.5" fill="none" stroke="#c0c0c0" stroke-width="1.15"/>
<path d="M62.7 42.5 L78.2 38.5 L78.2 46.5 Z" fill="none" stroke="#c0c0c0" stroke-width="0.9"/>
<path d="M1035 42.5 L1019.5 46.5 L1019.5 38.5 Z" fill="none" stroke="#c0c0c0" stroke-width="0.9"/>
<g transform="translate(522 48.6)"><text x="0" y="0" font-size="16" textLength="31.1" lengthAdjust="spacingAndGlyphs">163.0</text><text x="31.7" y="0" font-size="16" textLength="20.9" lengthAdjust="spacingAndGlyphs">mm</text></g>
<path d="M12.5 97.3 L34.6 97.3" fill="none" stroke="#c0c0c0" stroke-width="1.15"/>
<path d="M12.5 545.1 L34.6 545.1" fill="none" stroke="#c0c0c0" stroke-width="1.15"/>
<path d="M20.6 97.3 L20.6 220.3" fill="none" stroke="#c0c0c0" stroke-width="1.15"/>
<path d="M20.6 276.7 L20.6 545.1" fill="none" stroke="#c0c0c0" stroke-width="1.15"/>
<path d="M20.6 97.3 L24.6 112.8 L16.6 112.8 Z" fill="none" stroke="#c0c0c0" stroke-width="0.9"/>
<path d="M20.6 545.1 L16.6 529.6 L24.6 529.6 Z" fill="none" stroke="#c0c0c0" stroke-width="0.9"/>
<g transform="translate(25.6 273.1) rotate(-90)"><text x="0" y="0" font-size="16" textLength="26.4" lengthAdjust="spacingAndGlyphs">75.0</text><text x="27" y="0" font-size="16" textLength="20.9" lengthAdjust="spacingAndGlyphs">mm</text></g>
<path d="M27 118.3 L44.5 118.3" fill="none" stroke="#c0c0c0" stroke-width="1.15"/>
<path d="M27 524.1 L44.5 524.1" fill="none" stroke="#c0c0c0" stroke-width="1.15"/>
<path d="M35.3 118.3 L35.3 290" fill="none" stroke="#c0c0c0" stroke-width="1.15"/>
<path d="M35.3 347.7 L35.3 524.1" fill="none" stroke="#c0c0c0" stroke-width="1.15"/>
<path d="M35.3 118.3 L39.3 133.8 L31.3 133.8 Z" fill="none" stroke="#c0c0c0" stroke-width="0.9"/>
<path d="M35.3 524.1 L31.3 508.6 L39.3 508.6 Z" fill="none" stroke="#c0c0c0" stroke-width="0.9"/>
<g transform="translate(38.4 343.8) rotate(-90)"><text x="0" y="0" font-size="16" textLength="26.2" lengthAdjust="spacingAndGlyphs">68.0</text><text x="26.8" y="0" font-size="16" textLength="20.9" lengthAdjust="spacingAndGlyphs">mm</text></g>
<path d="M1056 97.3 L1087.6 97.3" fill="none" stroke="#c0c0c0" stroke-width="1.15"/>
<path d="M1053.5 186.6 L1087.6 186.6" fill="none" stroke="#c0c0c0" stroke-width="1.15"/>
<path d="M1080.7 74.4 L1080.7 97.3" fill="none" stroke="#c0c0c0" stroke-width="1.15"/>
<path d="M1080.7 186.6 L1080.7 209.6" fill="none" stroke="#c0c0c0" stroke-width="1.15"/>
<path d="M1080.7 97.3 L1076.7 81.8 L1084.7 81.8 Z" fill="none" stroke="#c0c0c0" stroke-width="0.9"/>
<path d="M1080.7 186.6 L1084.7 202.1 L1076.7 202.1 Z" fill="none" stroke="#c0c0c0" stroke-width="0.9"/>
<g transform="translate(1085.2 161.1) rotate(-90)"><text x="0" y="0" font-size="16" textLength="24.2" lengthAdjust="spacingAndGlyphs">15.0</text><text x="24.8" y="0" font-size="16" textLength="20.9" lengthAdjust="spacingAndGlyphs">mm</text></g>
<path d="M1068.1 186.6 L1068.1 322.5" fill="none" stroke="#c0c0c0" stroke-width="1.15"/>
<path d="M1068.1 379.2 L1068.1 524.1" fill="none" stroke="#c0c0c0" stroke-width="1.15"/>
<path d="M1053.5 524.1 L1075.5 524.1" fill="none" stroke="#c0c0c0" stroke-width="1.15"/>
<path d="M1068.1 186.6 L1072.1 202.1 L1064.1 202.1 Z" fill="none" stroke="#c0c0c0" stroke-width="0.9"/>
<path d="M1068.1 524.1 L1064.1 508.6 L1072.1 508.6 Z" fill="none" stroke="#c0c0c0" stroke-width="0.9"/>
<g transform="translate(1071.5 376.1) rotate(-90)"><text x="0" y="0" font-size="16" textLength="26.9" lengthAdjust="spacingAndGlyphs">56.5</text><text x="27.5" y="0" font-size="16" textLength="20.9" lengthAdjust="spacingAndGlyphs">mm</text></g>
<path d="M1035 542.5 L1035 560.8" fill="none" stroke="#c0c0c0" stroke-width="1.15"/>
<path d="M1056 545.1 L1056 560.8" fill="none" stroke="#c0c0c0" stroke-width="1.15"/>
<path d="M1012 553.3 L1035 553.3" fill="none" stroke="#c0c0c0" stroke-width="1.15"/>
<path d="M1056 553.3 L1078.9 553.3" fill="none" stroke="#c0c0c0" stroke-width="1.15"/>
<path d="M1035 553.3 L1019.5 557.3 L1019.5 549.3 Z" fill="none" stroke="#c0c0c0" stroke-width="0.9"/>
<path d="M1056 553.3 L1071.5 549.3 L1071.5 557.3 Z" fill="none" stroke="#c0c0c0" stroke-width="0.9"/>
<g transform="translate(967.5 559.4)"><text x="0" y="0" font-size="16" textLength="18.3" lengthAdjust="spacingAndGlyphs">3.5</text><text x="18.9" y="0" font-size="16" textLength="20.9" lengthAdjust="spacingAndGlyphs">mm</text></g>
<path d="M110.9 494.3 L95.4 494.3 L76.2 511.2" fill="none" stroke="#c0c0c0" stroke-width="1.15"/>
<path d="M76.2 511.2 L84.38 498.4 L89.93 504.71 Z" fill="none" stroke="#c0c0c0" stroke-width="0.9"/>
<g transform="translate(114.3 500.4)"><text x="0" y="0" font-size="16" textLength="26.4" lengthAdjust="spacingAndGlyphs">D3.2</text><text x="27" y="0" font-size="16" textLength="20.9" lengthAdjust="spacingAndGlyphs">mm</text></g>
</svg>
</body></html>
